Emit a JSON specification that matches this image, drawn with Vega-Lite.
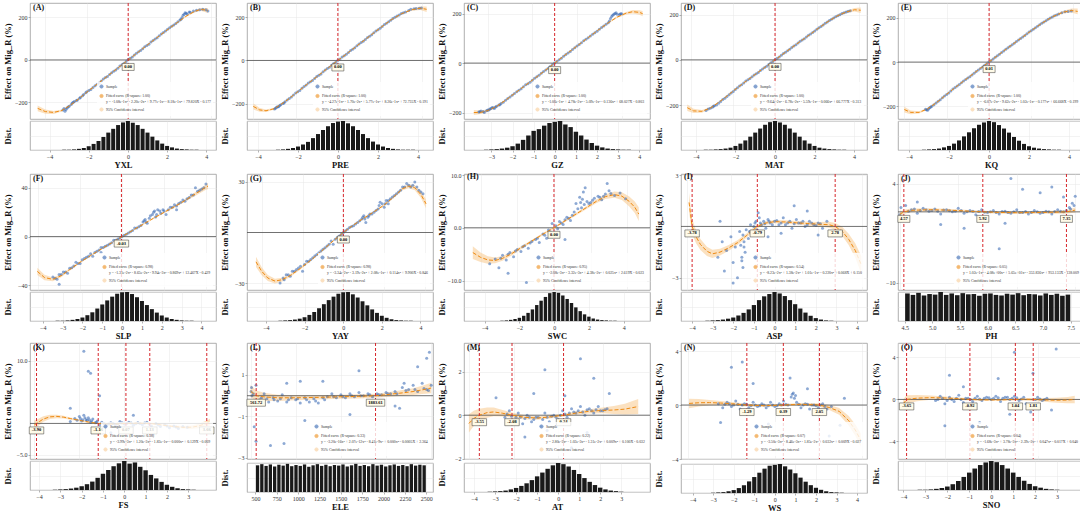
{
"$schema":"https://vega.github.io/schema/vega-lite/v6.json",
"padding":{"left":2,"top":2,"right":0,"bottom":0},
"background":"white",
"config":{
"font":"Liberation Serif",
"view":{"stroke":"#9a9a9a","strokeWidth":0.8},
"circle":{"size":9,"opacity":0.55},
"axis":{"labelFont":"Liberation Serif","titleFont":"Liberation Serif","labelFontSize":6,"titleFontSize":8.5,"titleFontWeight":"bold","labelColor":"#333333","titleColor":"#111111","gridColor":"#e6e6e6","gridWidth":0.5,"domain":false,"tickColor":"#666666","tickSize":2,"tickWidth":0.5,"labelPadding":1,"titlePadding":2,"labelFlush":false,"labelOverlap":false,"labelSeparation":-40,"labelBound":false},
"axisX":{"titlePadding":1},
"axisY":{"minExtent":16,"maxExtent":16,"labelOverlap":false,"labelSeparation":-40},
"legend":{"orient":"bottom-right","offset":3,"padding":2,"rowPadding":0.5,"labelFont":"Liberation Serif","labelFontSize":3.8,"labelColor":"#333333","symbolSize":10,"symbolStrokeWidth":1,"symbolType":"circle","fillColor":"rgba(255,255,255,0.8)","labelLimit":400,"labelOffset":2},
"title":{"anchor":"start","frame":"group","font":"Liberation Serif","fontSize":8,"fontWeight":"bold","color":"#111111","offset":0,"dx":3,"dy":13}
},
"datasets":{
"A_c":[{"x":-4.37,"y":-228,"l":-242,"h":-214},{"x":-4.0,"y":-243,"l":-253,"h":-233},{"x":-3.6,"y":-247,"l":-254,"h":-240},{"x":-3.2,"y":-238,"l":-243,"h":-233},{"x":-2.8,"y":-214,"l":-218,"h":-210},{"x":-2.4,"y":-184,"l":-187,"h":-181},{"x":-2.0,"y":-152,"l":-155,"h":-149},{"x":-1.5,"y":-114,"l":-116,"h":-112},{"x":-1.0,"y":-76,"l":-78,"h":-74},{"x":-0.5,"y":-38,"l":-40,"h":-36},{"x":0,"y":0,"l":-2,"h":2},{"x":0.5,"y":38,"l":36,"h":40},{"x":1.0,"y":76,"l":74,"h":78},{"x":1.5,"y":113,"l":111,"h":115},{"x":2.0,"y":150,"l":147,"h":153},{"x":2.4,"y":178,"l":175,"h":181},{"x":2.8,"y":206,"l":202,"h":210},{"x":3.2,"y":228,"l":223,"h":233},{"x":3.5,"y":238,"l":231,"h":245},{"x":3.85,"y":233,"l":221,"h":245}],
"A_s":[{"x":-3.15,"y":-236},{"x":-3.1,"y":-228},{"x":-3.05,"y":-242},{"x":-2.95,"y":-226},{"x":-2.85,"y":-218},{"x":-2.7,"y":-203},{"x":-2.6,"y":-196},{"x":-2.45,"y":-188},{"x":-2.3,"y":-176},{"x":-2.15,"y":-163},{"x":-2.0,"y":-150},{"x":-1.8,"y":-139},{"x":-1.6,"y":-121},{"x":-1.4,"y":-108},{"x":-1.2,"y":-90},{"x":-1.0,"y":-78},{"x":-0.8,"y":-60},{"x":-0.6,"y":-47},{"x":-0.4,"y":-29},{"x":-0.2,"y":-16},{"x":0.0,"y":2},{"x":0.2,"y":14},{"x":0.4,"y":31},{"x":0.6,"y":44},{"x":0.8,"y":62},{"x":1.0,"y":74},{"x":1.2,"y":92},{"x":1.4,"y":105},{"x":1.6,"y":122},{"x":1.8,"y":136},{"x":2.0,"y":152},{"x":2.2,"y":164},{"x":2.4,"y":180},{"x":2.55,"y":192},{"x":2.65,"y":210},{"x":2.75,"y":222},{"x":2.85,"y":216},{"x":3.0,"y":224},{"x":3.3,"y":234},{"x":3.6,"y":238},{"x":3.85,"y":230},{"x":-3.0,"y":-233},{"x":-2.9,"y":-222},{"x":-2.75,"y":-210},{"x":-2.65,"y":-199},{"x":-2.5,"y":-191},{"x":-2.35,"y":-180},{"x":-2.2,"y":-168},{"x":-2.05,"y":-154},{"x":-1.9,"y":-144},{"x":-1.7,"y":-130},{"x":-1.5,"y":-114},{"x":-1.3,"y":-99},{"x":-1.1,"y":-83},{"x":-0.9,"y":-69},{"x":-0.7,"y":-53},{"x":-0.5,"y":-39},{"x":-0.3,"y":-23},{"x":-0.1,"y":-7},{"x":0.1,"y":8},{"x":0.3,"y":23},{"x":0.5,"y":38},{"x":0.7,"y":53},{"x":0.9,"y":68},{"x":1.1,"y":84},{"x":1.3,"y":99},{"x":1.5,"y":114},{"x":1.7,"y":129},{"x":1.9,"y":144},{"x":2.1,"y":158},{"x":2.3,"y":172},{"x":2.5,"y":188},{"x":2.6,"y":200},{"x":2.7,"y":215},{"x":2.8,"y":220},{"x":2.95,"y":226},{"x":3.15,"y":230},{"x":3.45,"y":236},{"x":3.75,"y":236}],
"A_r":[{"x":0,"t":"0.00"}],
"A_h":[{"x":-3.25,"n":1},{"x":-3.0,"n":1},{"x":-2.75,"n":2},{"x":-2.5,"n":4},{"x":-2.25,"n":7},{"x":-2.0,"n":13},{"x":-1.75,"n":21},{"x":-1.5,"n":31},{"x":-1.25,"n":45},{"x":-1.0,"n":60},{"x":-0.75,"n":73},{"x":-0.5,"n":86},{"x":-0.25,"n":95},{"x":0.0,"n":100},{"x":0.25,"n":94},{"x":0.5,"n":86},{"x":0.75,"n":73},{"x":1.0,"n":60},{"x":1.25,"n":46},{"x":1.5,"n":33},{"x":1.75,"n":22},{"x":2.0,"n":14},{"x":2.25,"n":9},{"x":2.5,"n":5},{"x":2.75,"n":3},{"x":3.0,"n":2},{"x":3.25,"n":1},{"x":3.5,"n":1}],
"B_c":[{"x":-4.0,"y":-212,"l":-226,"h":-198},{"x":-3.7,"y":-228,"l":-237,"h":-219},{"x":-3.4,"y":-232,"l":-238,"h":-226},{"x":-3.0,"y":-222,"l":-226,"h":-218},{"x":-2.5,"y":-190,"l":-193,"h":-187},{"x":-2.0,"y":-152,"l":-154,"h":-150},{"x":-1.5,"y":-113,"l":-115,"h":-111},{"x":-1.0,"y":-75,"l":-77,"h":-73},{"x":-0.5,"y":-37,"l":-39,"h":-35},{"x":0,"y":0,"l":-2,"h":2},{"x":0.5,"y":37,"l":35,"h":39},{"x":1.0,"y":75,"l":73,"h":77},{"x":1.5,"y":112,"l":110,"h":114},{"x":2.0,"y":150,"l":148,"h":152},{"x":2.5,"y":186,"l":183,"h":189},{"x":3.0,"y":215,"l":212,"h":218},{"x":3.5,"y":234,"l":229,"h":239},{"x":3.9,"y":241,"l":233,"h":249},{"x":4.2,"y":236,"l":223,"h":249}],
"B_s":[{"x":-3.0,"y":-224},{"x":-2.9,"y":-216},{"x":-2.8,"y":-213},{"x":-2.7,"y":-204},{"x":-2.55,"y":-196},{"x":-2.4,"y":-182},{"x":-2.2,"y":-168},{"x":-2.0,"y":-150},{"x":-1.8,"y":-138},{"x":-1.6,"y":-120},{"x":-1.4,"y":-104},{"x":-1.2,"y":-92},{"x":-1.0,"y":-74},{"x":-0.8,"y":-62},{"x":-0.6,"y":-44},{"x":-0.4,"y":-31},{"x":-0.2,"y":-14},{"x":0,"y":1},{"x":0.2,"y":16},{"x":0.4,"y":29},{"x":0.6,"y":46},{"x":0.8,"y":59},{"x":1.0,"y":76},{"x":1.2,"y":89},{"x":1.4,"y":106},{"x":1.6,"y":119},{"x":1.8,"y":136},{"x":2.0,"y":149},{"x":2.2,"y":166},{"x":2.4,"y":178},{"x":2.6,"y":194},{"x":2.8,"y":205},{"x":3.0,"y":216},{"x":3.2,"y":224},{"x":3.45,"y":236},{"x":3.7,"y":240},{"x":3.95,"y":242},{"x":-2.95,"y":-220},{"x":-2.85,"y":-214},{"x":-2.75,"y":-208},{"x":-2.6,"y":-199},{"x":-2.5,"y":-190},{"x":-2.3,"y":-175},{"x":-2.1,"y":-159},{"x":-1.9,"y":-144},{"x":-1.7,"y":-128},{"x":-1.5,"y":-113},{"x":-1.3,"y":-98},{"x":-1.1,"y":-83},{"x":-0.9,"y":-68},{"x":-0.7,"y":-52},{"x":-0.5,"y":-37},{"x":-0.3,"y":-22},{"x":-0.1,"y":-8},{"x":0.1,"y":7},{"x":0.3,"y":22},{"x":0.5,"y":37},{"x":0.7,"y":52},{"x":0.9,"y":68},{"x":1.1,"y":83},{"x":1.3,"y":97},{"x":1.5,"y":112},{"x":1.7,"y":128},{"x":1.9,"y":142},{"x":2.1,"y":157},{"x":2.3,"y":172},{"x":2.5,"y":186},{"x":2.7,"y":199},{"x":2.9,"y":210},{"x":3.1,"y":220},{"x":3.35,"y":230},{"x":3.6,"y":238},{"x":3.85,"y":241}],
"B_r":[{"x":0,"t":"0.00"}],
"B_h":[{"x":-3.0,"n":1},{"x":-2.75,"n":2},{"x":-2.5,"n":4},{"x":-2.25,"n":7},{"x":-2.0,"n":12},{"x":-1.75,"n":19},{"x":-1.5,"n":28},{"x":-1.25,"n":41},{"x":-1.0,"n":55},{"x":-0.75,"n":69},{"x":-0.5,"n":82},{"x":-0.25,"n":93},{"x":0.0,"n":98},{"x":0.25,"n":100},{"x":0.5,"n":92},{"x":0.75,"n":82},{"x":1.0,"n":69},{"x":1.25,"n":55},{"x":1.5,"n":41},{"x":1.75,"n":29},{"x":2.0,"n":19},{"x":2.25,"n":12},{"x":2.5,"n":7},{"x":2.75,"n":4},{"x":3.0,"n":2},{"x":3.25,"n":1},{"x":3.5,"n":1},{"x":3.75,"n":1}],
"C_c":[{"x":-3.62,"y":-200,"l":-210,"h":-190},{"x":-3.3,"y":-199,"l":-206,"h":-192},{"x":-3.0,"y":-192,"l":-197,"h":-187},{"x":-2.6,"y":-175,"l":-179,"h":-171},{"x":-2.2,"y":-150,"l":-153,"h":-147},{"x":-1.8,"y":-123,"l":-125,"h":-121},{"x":-1.4,"y":-96,"l":-98,"h":-94},{"x":-1.0,"y":-69,"l":-71,"h":-67},{"x":-0.5,"y":-35,"l":-37,"h":-33},{"x":0,"y":0,"l":-2,"h":2},{"x":0.5,"y":35,"l":33,"h":37},{"x":1.0,"y":69,"l":67,"h":71},{"x":1.5,"y":103,"l":101,"h":105},{"x":2.0,"y":137,"l":135,"h":139},{"x":2.4,"y":163,"l":160,"h":166},{"x":2.8,"y":186,"l":182,"h":190},{"x":3.2,"y":202,"l":197,"h":207},{"x":3.5,"y":208,"l":201,"h":215},{"x":3.8,"y":205,"l":196,"h":214},{"x":3.94,"y":200,"l":189,"h":211}],
"C_s":[{"x":-3.4,"y":-198},{"x":-3.3,"y":-194},{"x":-3.15,"y":-200},{"x":-3.0,"y":-190},{"x":-2.9,"y":-186},{"x":-2.8,"y":-180},{"x":-2.7,"y":-184},{"x":-2.6,"y":-174},{"x":-2.45,"y":-168},{"x":-2.3,"y":-158},{"x":-2.1,"y":-143},{"x":-1.9,"y":-130},{"x":-1.7,"y":-116},{"x":-1.5,"y":-104},{"x":-1.3,"y":-88},{"x":-1.1,"y":-77},{"x":-0.9,"y":-61},{"x":-0.7,"y":-49},{"x":-0.5,"y":-34},{"x":-0.3,"y":-22},{"x":-0.1,"y":-6},{"x":0.1,"y":7},{"x":0.3,"y":20},{"x":0.5,"y":35},{"x":0.7,"y":47},{"x":0.9,"y":62},{"x":1.1,"y":75},{"x":1.3,"y":90},{"x":1.5,"y":102},{"x":1.7,"y":117},{"x":1.9,"y":129},{"x":2.1,"y":144},{"x":2.3,"y":157},{"x":2.45,"y":170},{"x":2.55,"y":188},{"x":2.65,"y":198},{"x":2.75,"y":204},{"x":2.9,"y":196},{"x":3.0,"y":200},{"x":-3.35,"y":-197},{"x":-3.2,"y":-196},{"x":-3.05,"y":-193},{"x":-2.95,"y":-190},{"x":-2.85,"y":-184},{"x":-2.75,"y":-181},{"x":-2.65,"y":-177},{"x":-2.5,"y":-169},{"x":-2.4,"y":-163},{"x":-2.2,"y":-150},{"x":-2.0,"y":-137},{"x":-1.8,"y":-123},{"x":-1.6,"y":-110},{"x":-1.4,"y":-96},{"x":-1.2,"y":-83},{"x":-1.0,"y":-69},{"x":-0.8,"y":-55},{"x":-0.6,"y":-41},{"x":-0.4,"y":-28},{"x":-0.2,"y":-14},{"x":0.0,"y":0},{"x":0.2,"y":14},{"x":0.4,"y":28},{"x":0.6,"y":41},{"x":0.8,"y":55},{"x":1.0,"y":69},{"x":1.2,"y":82},{"x":1.4,"y":96},{"x":1.6,"y":110},{"x":1.8,"y":123},{"x":2.0,"y":137},{"x":2.2,"y":150},{"x":2.4,"y":163},{"x":2.5,"y":180},{"x":2.6,"y":193},{"x":2.7,"y":201},{"x":2.8,"y":198},{"x":2.95,"y":200}],
"C_r":[{"x":0,"t":"0.00"}],
"C_h":[{"x":-3.25,"n":1},{"x":-3.0,"n":2},{"x":-2.75,"n":3},{"x":-2.5,"n":5},{"x":-2.25,"n":8},{"x":-2.0,"n":13},{"x":-1.75,"n":22},{"x":-1.5,"n":35},{"x":-1.25,"n":50},{"x":-1.0,"n":66},{"x":-0.75,"n":72},{"x":-0.5,"n":84},{"x":-0.25,"n":93},{"x":0.0,"n":97},{"x":0.25,"n":100},{"x":0.5,"n":88},{"x":0.75,"n":79},{"x":1.0,"n":63},{"x":1.25,"n":50},{"x":1.5,"n":36},{"x":1.75,"n":24},{"x":2.0,"n":15},{"x":2.25,"n":9},{"x":2.5,"n":5},{"x":2.75,"n":3},{"x":3.0,"n":2},{"x":3.25,"n":1},{"x":3.5,"n":1}],
"D_c":[{"x":-4.2,"y":-212,"l":-226,"h":-198},{"x":-3.9,"y":-226,"l":-235,"h":-217},{"x":-3.5,"y":-228,"l":-234,"h":-222},{"x":-3.1,"y":-214,"l":-218,"h":-210},{"x":-2.6,"y":-182,"l":-185,"h":-179},{"x":-2.0,"y":-138,"l":-140,"h":-136},{"x":-1.5,"y":-102,"l":-104,"h":-100},{"x":-1.0,"y":-68,"l":-70,"h":-66},{"x":-0.5,"y":-34,"l":-36,"h":-32},{"x":0,"y":0,"l":-2,"h":2},{"x":0.5,"y":34,"l":32,"h":36},{"x":1.0,"y":68,"l":66,"h":70},{"x":1.5,"y":101,"l":99,"h":103},{"x":2.0,"y":135,"l":133,"h":137},{"x":2.5,"y":168,"l":165,"h":171},{"x":3.0,"y":196,"l":192,"h":200},{"x":3.4,"y":212,"l":207,"h":217},{"x":3.8,"y":222,"l":214,"h":230},{"x":4.1,"y":220,"l":208,"h":232}],
"D_s":[{"x":-3.3,"y":-224},{"x":-3.1,"y":-214},{"x":-2.95,"y":-206},{"x":-2.8,"y":-200},{"x":-2.6,"y":-184},{"x":-2.4,"y":-170},{"x":-2.2,"y":-154},{"x":-2.0,"y":-140},{"x":-1.8,"y":-123},{"x":-1.6,"y":-110},{"x":-1.4,"y":-94},{"x":-1.2,"y":-83},{"x":-1.0,"y":-67},{"x":-0.8,"y":-56},{"x":-0.6,"y":-40},{"x":-0.4,"y":-28},{"x":-0.2,"y":-13},{"x":0,"y":1},{"x":0.2,"y":13},{"x":0.4,"y":28},{"x":0.6,"y":40},{"x":0.8,"y":55},{"x":1.0,"y":67},{"x":1.2,"y":82},{"x":1.4,"y":94},{"x":1.6,"y":109},{"x":1.8,"y":121},{"x":2.0,"y":136},{"x":2.2,"y":148},{"x":2.4,"y":162},{"x":2.6,"y":174},{"x":2.8,"y":186},{"x":3.0,"y":196},{"x":3.2,"y":206},{"x":3.4,"y":212},{"x":3.6,"y":218},{"x":-3.2,"y":-218},{"x":-3.0,"y":-210},{"x":-2.9,"y":-203},{"x":-2.7,"y":-192},{"x":-2.5,"y":-176},{"x":-2.3,"y":-162},{"x":-2.1,"y":-147},{"x":-1.9,"y":-131},{"x":-1.7,"y":-116},{"x":-1.5,"y":-102},{"x":-1.3,"y":-88},{"x":-1.1,"y":-75},{"x":-0.9,"y":-61},{"x":-0.7,"y":-47},{"x":-0.5,"y":-34},{"x":-0.3,"y":-20},{"x":-0.1,"y":-7},{"x":0.1,"y":7},{"x":0.3,"y":20},{"x":0.5,"y":34},{"x":0.7,"y":47},{"x":0.9,"y":61},{"x":1.1,"y":75},{"x":1.3,"y":88},{"x":1.5,"y":101},{"x":1.7,"y":115},{"x":1.9,"y":128},{"x":2.1,"y":142},{"x":2.3,"y":155},{"x":2.5,"y":168},{"x":2.7,"y":180},{"x":2.9,"y":191},{"x":3.1,"y":200},{"x":3.3,"y":209},{"x":3.5,"y":215}],
"D_r":[{"x":0,"t":"0.00"}],
"D_h":[{"x":-3.5,"n":1},{"x":-3.25,"n":1},{"x":-3.0,"n":2},{"x":-2.75,"n":3},{"x":-2.5,"n":5},{"x":-2.25,"n":8},{"x":-2.0,"n":14},{"x":-1.75,"n":22},{"x":-1.5,"n":33},{"x":-1.25,"n":46},{"x":-1.0,"n":60},{"x":-0.75,"n":74},{"x":-0.5,"n":87},{"x":-0.25,"n":96},{"x":0.0,"n":100},{"x":0.25,"n":95},{"x":0.5,"n":87},{"x":0.75,"n":74},{"x":1.0,"n":60},{"x":1.25,"n":46},{"x":1.5,"n":33},{"x":1.75,"n":22},{"x":2.0,"n":14},{"x":2.25,"n":8},{"x":2.5,"n":5},{"x":2.75,"n":3},{"x":3.0,"n":2},{"x":3.25,"n":1},{"x":3.5,"n":1}],
"E_c":[{"x":-4.0,"y":-215,"l":-228,"h":-202},{"x":-3.7,"y":-228,"l":-236,"h":-220},{"x":-3.3,"y":-228,"l":-233,"h":-223},{"x":-2.9,"y":-212,"l":-216,"h":-208},{"x":-2.4,"y":-178,"l":-181,"h":-175},{"x":-2.0,"y":-146,"l":-148,"h":-144},{"x":-1.5,"y":-108,"l":-110,"h":-106},{"x":-1.0,"y":-72,"l":-74,"h":-70},{"x":-0.5,"y":-35,"l":-37,"h":-33},{"x":0,"y":0,"l":-2,"h":2},{"x":0.5,"y":36,"l":34,"h":38},{"x":1.0,"y":72,"l":70,"h":74},{"x":1.5,"y":107,"l":105,"h":109},{"x":2.0,"y":142,"l":140,"h":144},{"x":2.5,"y":176,"l":173,"h":179},{"x":3.0,"y":205,"l":201,"h":209},{"x":3.5,"y":226,"l":220,"h":232},{"x":3.9,"y":234,"l":225,"h":243},{"x":4.2,"y":230,"l":217,"h":243}],
"E_s":[{"x":-3.0,"y":-214},{"x":-2.9,"y":-218},{"x":-2.8,"y":-207},{"x":-2.7,"y":-200},{"x":-2.5,"y":-186},{"x":-2.3,"y":-171},{"x":-2.1,"y":-154},{"x":-1.9,"y":-140},{"x":-1.7,"y":-122},{"x":-1.5,"y":-108},{"x":-1.3,"y":-94},{"x":-1.1,"y":-79},{"x":-0.9,"y":-66},{"x":-0.7,"y":-50},{"x":-0.5,"y":-36},{"x":-0.3,"y":-22},{"x":-0.1,"y":-7},{"x":0.1,"y":7},{"x":0.3,"y":22},{"x":0.5,"y":36},{"x":0.7,"y":50},{"x":0.9,"y":65},{"x":1.1,"y":79},{"x":1.3,"y":93},{"x":1.5,"y":107},{"x":1.7,"y":121},{"x":1.9,"y":136},{"x":2.1,"y":149},{"x":2.3,"y":163},{"x":2.5,"y":176},{"x":2.7,"y":188},{"x":2.9,"y":200},{"x":3.1,"y":210},{"x":3.3,"y":218},{"x":3.6,"y":228},{"x":3.9,"y":232},{"x":-2.95,"y":-216},{"x":-2.85,"y":-211},{"x":-2.75,"y":-204},{"x":-2.6,"y":-193},{"x":-2.4,"y":-178},{"x":-2.2,"y":-162},{"x":-2.0,"y":-147},{"x":-1.8,"y":-131},{"x":-1.6,"y":-115},{"x":-1.4,"y":-101},{"x":-1.2,"y":-86},{"x":-1.0,"y":-72},{"x":-0.8,"y":-58},{"x":-0.6,"y":-43},{"x":-0.4,"y":-29},{"x":-0.2,"y":-14},{"x":0.0,"y":0},{"x":0.2,"y":14},{"x":0.4,"y":29},{"x":0.6,"y":43},{"x":0.8,"y":58},{"x":1.0,"y":72},{"x":1.2,"y":86},{"x":1.4,"y":100},{"x":1.6,"y":114},{"x":1.8,"y":128},{"x":2.0,"y":142},{"x":2.2,"y":156},{"x":2.4,"y":169},{"x":2.6,"y":182},{"x":2.8,"y":194},{"x":3.0,"y":205},{"x":3.2,"y":214},{"x":3.45,"y":224},{"x":3.75,"y":230}],
"E_r":[{"x":0.01,"t":"0.01"}],
"E_h":[{"x":-3.25,"n":1},{"x":-3.0,"n":2},{"x":-2.75,"n":3},{"x":-2.5,"n":5},{"x":-2.25,"n":9},{"x":-2.0,"n":14},{"x":-1.75,"n":22},{"x":-1.5,"n":33},{"x":-1.25,"n":47},{"x":-1.0,"n":61},{"x":-0.75,"n":75},{"x":-0.5,"n":87},{"x":-0.25,"n":95},{"x":0.0,"n":100},{"x":0.25,"n":96},{"x":0.5,"n":86},{"x":0.75,"n":74},{"x":1.0,"n":60},{"x":1.25,"n":45},{"x":1.5,"n":32},{"x":1.75,"n":21},{"x":2.0,"n":13},{"x":2.25,"n":8},{"x":2.5,"n":5},{"x":2.75,"n":3},{"x":3.0,"n":2},{"x":3.25,"n":1},{"x":3.5,"n":1}],
"F_c":[{"x":-4.04,"y":-28.5,"l":-31.5,"h":-25.5},{"x":-3.7,"y":-33.5,"l":-35.7,"h":-31.3},{"x":-3.3,"y":-35,"l":-36.6,"h":-33.4},{"x":-2.9,"y":-32,"l":-33.2,"h":-30.8},{"x":-2.5,"y":-27,"l":-28,"h":-26},{"x":-2.0,"y":-21,"l":-21.8,"h":-20.2},{"x":-1.5,"y":-15.5,"l":-16.1,"h":-14.9},{"x":-1.0,"y":-10.3,"l":-10.8,"h":-9.8},{"x":-0.5,"y":-5.2,"l":-5.7,"h":-4.7},{"x":0,"y":0,"l":-0.5,"h":0.5},{"x":0.5,"y":5,"l":4.5,"h":5.5},{"x":1.0,"y":10,"l":9.5,"h":10.5},{"x":1.5,"y":15,"l":14.4,"h":15.6},{"x":2.0,"y":19.8,"l":19.1,"h":20.5},{"x":2.5,"y":24.5,"l":23.6,"h":25.4},{"x":3.0,"y":29.5,"l":28.4,"h":30.6},{"x":3.5,"y":35,"l":33.5,"h":36.5},{"x":4.0,"y":40.5,"l":38.3,"h":42.7},{"x":4.1,"y":41.3,"l":38.7,"h":43.9}],
"F_s":[{"x":-3.3,"y":-33},{"x":-3.1,"y":-35},{"x":-3.0,"y":-31},{"x":-2.8,"y":-29},{"x":-2.6,"y":-30},{"x":-2.5,"y":-26},{"x":-2.3,"y":-24},{"x":-2.2,"y":-21},{"x":-2.0,"y":-22},{"x":-1.9,"y":-19},{"x":-1.7,"y":-17},{"x":-1.5,"y":-14},{"x":-1.4,"y":-16},{"x":-1.2,"y":-12},{"x":-1.0,"y":-9},{"x":-0.8,"y":-8},{"x":-0.6,"y":-6},{"x":-0.4,"y":-3},{"x":-0.2,"y":-2},{"x":0.0,"y":0},{"x":0.2,"y":2},{"x":0.4,"y":4},{"x":0.6,"y":7},{"x":0.8,"y":8},{"x":1.0,"y":12},{"x":1.1,"y":14},{"x":1.2,"y":11},{"x":1.35,"y":17},{"x":1.5,"y":20},{"x":1.6,"y":16},{"x":1.7,"y":22},{"x":1.85,"y":19},{"x":2.0,"y":21},{"x":2.1,"y":18},{"x":2.3,"y":24},{"x":2.5,"y":26},{"x":2.7,"y":27},{"x":2.9,"y":30},{"x":3.1,"y":31},{"x":3.3,"y":34},{"x":3.6,"y":37},{"x":3.9,"y":40},{"x":4.0,"y":43},{"x":-3.0,"y":-39},{"x":2.6,"y":22},{"x":3.5,"y":40},{"x":-1.0,"y":-13},{"x":-3.2,"y":-34},{"x":-2.9,"y":-31},{"x":-2.7,"y":-29},{"x":-2.4,"y":-25.5},{"x":-2.1,"y":-22},{"x":-1.8,"y":-18},{"x":-1.6,"y":-16},{"x":-1.3,"y":-13},{"x":-1.1,"y":-11},{"x":-0.9,"y":-9},{"x":-0.7,"y":-7},{"x":-0.5,"y":-5},{"x":-0.3,"y":-3},{"x":-0.1,"y":-1},{"x":0.1,"y":1},{"x":0.3,"y":3},{"x":0.5,"y":5},{"x":0.7,"y":7},{"x":0.9,"y":9},{"x":1.05,"y":13},{"x":1.15,"y":12},{"x":1.3,"y":15},{"x":1.45,"y":18},{"x":1.55,"y":21},{"x":1.65,"y":18},{"x":1.8,"y":21},{"x":1.95,"y":22},{"x":2.2,"y":22},{"x":2.4,"y":24},{"x":2.6,"y":25},{"x":2.8,"y":28},{"x":3.0,"y":29},{"x":3.2,"y":32},{"x":3.4,"y":34},{"x":3.7,"y":38},{"x":3.8,"y":39}],
"F_r":[{"x":-0.03,"t":"-0.03"}],
"F_h":[{"x":-3.25,"n":1},{"x":-3.0,"n":1},{"x":-2.75,"n":2},{"x":-2.5,"n":4},{"x":-2.25,"n":7},{"x":-2.0,"n":12},{"x":-1.75,"n":20},{"x":-1.5,"n":30},{"x":-1.25,"n":43},{"x":-1.0,"n":57},{"x":-0.75,"n":71},{"x":-0.5,"n":84},{"x":-0.25,"n":94},{"x":0.0,"n":99},{"x":0.25,"n":100},{"x":0.5,"n":93},{"x":0.75,"n":82},{"x":1.0,"n":69},{"x":1.25,"n":55},{"x":1.5,"n":41},{"x":1.75,"n":29},{"x":2.0,"n":19},{"x":2.25,"n":12},{"x":2.5,"n":7},{"x":2.75,"n":4},{"x":3.0,"n":2},{"x":3.25,"n":1},{"x":3.5,"n":1}],
"G_c":[{"x":-4.28,"y":-17.4,"l":-20.4,"h":-14.4},{"x":-4.0,"y":-23,"l":-25.4,"h":-20.6},{"x":-3.7,"y":-27,"l":-28.8,"h":-25.2},{"x":-3.35,"y":-28.8,"l":-30.2,"h":-27.4},{"x":-3.0,"y":-28,"l":-29.1,"h":-26.9},{"x":-2.6,"y":-25.5,"l":-26.4,"h":-24.6},{"x":-2.1,"y":-21.2,"l":-21.9,"h":-20.5},{"x":-1.5,"y":-15.5,"l":-16,"h":-15},{"x":-1.0,"y":-10.3,"l":-10.8,"h":-9.8},{"x":-0.5,"y":-5,"l":-5.4,"h":-4.6},{"x":0,"y":0,"l":-0.4,"h":0.4},{"x":0.5,"y":4.5,"l":4.1,"h":4.9},{"x":1.0,"y":8.5,"l":8,"h":9},{"x":1.5,"y":12.3,"l":11.8,"h":12.8},{"x":2.0,"y":16.3,"l":15.7,"h":16.9},{"x":2.5,"y":21.5,"l":20.7,"h":22.3},{"x":2.9,"y":26,"l":25,"h":27},{"x":3.2,"y":27.5,"l":26.3,"h":28.7},{"x":3.5,"y":26.5,"l":25,"h":28},{"x":3.8,"y":22.5,"l":20.5,"h":24.5},{"x":4.05,"y":17,"l":14.4,"h":19.6}],
"G_s":[{"x":-2.9,"y":-28},{"x":-2.8,"y":-25},{"x":-2.6,"y":-26},{"x":-2.5,"y":-23},{"x":-2.3,"y":-22},{"x":-2.1,"y":-20},{"x":-2.0,"y":-23},{"x":-1.8,"y":-17},{"x":-1.6,"y":-16},{"x":-1.4,"y":-14},{"x":-1.2,"y":-12},{"x":-1.0,"y":-10},{"x":-0.8,"y":-8},{"x":-0.6,"y":-5},{"x":-0.5,"y":-7},{"x":-0.3,"y":-3},{"x":-0.1,"y":-1},{"x":0.1,"y":1},{"x":0.3,"y":3},{"x":0.5,"y":4},{"x":0.7,"y":6},{"x":0.9,"y":8},{"x":1.0,"y":10},{"x":1.1,"y":6},{"x":1.3,"y":11},{"x":1.5,"y":12},{"x":1.7,"y":14},{"x":1.8,"y":18},{"x":2.0,"y":15},{"x":2.1,"y":19},{"x":2.3,"y":20},{"x":2.5,"y":22},{"x":2.7,"y":24},{"x":2.9,"y":27},{"x":3.1,"y":29},{"x":3.3,"y":27},{"x":3.5,"y":30},{"x":3.7,"y":25},{"x":3.9,"y":23},{"x":-3.1,"y":-30},{"x":2.2,"y":17},{"x":1.2,"y":9},{"x":-2.95,"y":-27},{"x":-2.7,"y":-25},{"x":-2.4,"y":-23},{"x":-2.2,"y":-21},{"x":-1.9,"y":-19},{"x":-1.7,"y":-17},{"x":-1.5,"y":-15},{"x":-1.3,"y":-13},{"x":-1.1,"y":-11},{"x":-0.9,"y":-9},{"x":-0.7,"y":-7},{"x":-0.4,"y":-4},{"x":-0.2,"y":-2},{"x":0.0,"y":0},{"x":0.2,"y":2},{"x":0.4,"y":3.5},{"x":0.6,"y":5},{"x":0.8,"y":7},{"x":0.95,"y":9},{"x":1.05,"y":8},{"x":1.25,"y":10},{"x":1.4,"y":11},{"x":1.6,"y":13},{"x":1.75,"y":16},{"x":1.9,"y":17},{"x":2.05,"y":17},{"x":2.2,"y":19},{"x":2.4,"y":21},{"x":2.6,"y":23},{"x":2.8,"y":25},{"x":3.0,"y":27},{"x":3.2,"y":28},{"x":3.4,"y":28},{"x":3.6,"y":27},{"x":3.8,"y":24}],
"G_r":[{"x":0,"t":"0.00"}],
"G_h":[{"x":-3.25,"n":1},{"x":-3.0,"n":2},{"x":-2.75,"n":3},{"x":-2.5,"n":5},{"x":-2.25,"n":8},{"x":-2.0,"n":13},{"x":-1.75,"n":21},{"x":-1.5,"n":31},{"x":-1.25,"n":44},{"x":-1.0,"n":58},{"x":-0.75,"n":72},{"x":-0.5,"n":84},{"x":-0.25,"n":94},{"x":0.0,"n":99},{"x":0.25,"n":100},{"x":0.5,"n":92},{"x":0.75,"n":81},{"x":1.0,"n":68},{"x":1.25,"n":54},{"x":1.5,"n":40},{"x":1.75,"n":28},{"x":2.0,"n":18},{"x":2.25,"n":11},{"x":2.5,"n":6},{"x":2.75,"n":3},{"x":3.0,"n":2},{"x":3.25,"n":1},{"x":3.5,"n":1}],
"H_c":[{"x":-4.42,"y":-4.7,"l":-5.9,"h":-3.5},{"x":-4.0,"y":-5.6,"l":-6.5,"h":-4.7},{"x":-3.6,"y":-6.1,"l":-6.8,"h":-5.4},{"x":-3.2,"y":-6.2,"l":-6.75,"h":-5.65},{"x":-2.8,"y":-5.8,"l":-6.25,"h":-5.35},{"x":-2.3,"y":-4.9,"l":-5.25,"h":-4.55},{"x":-1.8,"y":-3.8,"l":-4.1,"h":-3.5},{"x":-1.2,"y":-2.5,"l":-2.75,"h":-2.25},{"x":-0.6,"y":-1.2,"l":-1.4,"h":-1.0},{"x":0,"y":0,"l":-0.2,"h":0.2},{"x":0.6,"y":1.3,"l":1.1,"h":1.5},{"x":1.2,"y":2.6,"l":2.35,"h":2.85},{"x":1.8,"y":3.9,"l":3.6,"h":4.2},{"x":2.3,"y":5.0,"l":4.65,"h":5.35},{"x":2.8,"y":5.9,"l":5.45,"h":6.35},{"x":3.3,"y":6.3,"l":5.7,"h":6.9},{"x":3.7,"y":6.0,"l":5.25,"h":6.75},{"x":4.1,"y":5.0,"l":4.05,"h":5.95},{"x":4.4,"y":3.9,"l":2.8,"h":5.0},{"x":4.62,"y":2.6,"l":1.3,"h":3.9}],
"H_s":[{"x":-3.5,"y":-6.8},{"x":-3.2,"y":-5.9},{"x":-3.0,"y":-7.6},{"x":-2.8,"y":-5.2},{"x":-2.6,"y":-6.1},{"x":-2.4,"y":-4.7},{"x":-2.2,"y":-5.5},{"x":-2.0,"y":-4.1},{"x":-1.8,"y":-4.5},{"x":-1.6,"y":-3.4},{"x":-1.4,"y":-3.9},{"x":-1.2,"y":-2.6},{"x":-1.0,"y":-2.2},{"x":-0.8,"y":-2.8},{"x":-0.6,"y":-1.2},{"x":-0.4,"y":-2.0},{"x":-0.3,"y":-0.4},{"x":-0.1,"y":0.8},{"x":0.0,"y":-1.0},{"x":0.1,"y":0.4},{"x":0.3,"y":1.2},{"x":0.5,"y":0.6},{"x":0.7,"y":2.0},{"x":0.9,"y":1.4},{"x":1.1,"y":3.0},{"x":1.2,"y":4.6},{"x":1.4,"y":5.8},{"x":1.5,"y":3.8},{"x":1.6,"y":6.8},{"x":1.8,"y":5.0},{"x":2.0,"y":4.8},{"x":2.2,"y":5.6},{"x":2.4,"y":6.0},{"x":2.6,"y":5.3},{"x":2.8,"y":6.4},{"x":3.0,"y":7.0},{"x":3.3,"y":6.1},{"x":3.6,"y":6.6},{"x":3.9,"y":5.5},{"x":-1.5,"y":-10.4},{"x":2.9,"y":8.4},{"x":-2.5,"y":-8.6},{"x":0.6,"y":-2.2},{"x":1.7,"y":7.6},{"x":-2.9,"y":-5.8},{"x":-2.5,"y":-5.0},{"x":-2.1,"y":-4.4},{"x":-1.7,"y":-3.6},{"x":-1.3,"y":-2.9},{"x":-0.9,"y":-2.0},{"x":-0.5,"y":-1.4},{"x":-0.2,"y":-0.8},{"x":0.2,"y":-0.2},{"x":0.4,"y":0.9},{"x":0.6,"y":1.5},{"x":0.8,"y":1.8},{"x":1.0,"y":2.4},{"x":1.3,"y":3.6},{"x":1.45,"y":4.8},{"x":1.55,"y":5.4},{"x":1.65,"y":4.4},{"x":1.9,"y":4.6},{"x":2.1,"y":5.2},{"x":2.5,"y":5.8},{"x":2.7,"y":6.0},{"x":3.1,"y":6.5}],
"H_r":[{"x":0,"t":"0.00"}],
"H_h":[{"x":-3.0,"n":1},{"x":-2.75,"n":2},{"x":-2.5,"n":4},{"x":-2.25,"n":7},{"x":-2.0,"n":11},{"x":-1.75,"n":18},{"x":-1.5,"n":28},{"x":-1.25,"n":40},{"x":-1.0,"n":55},{"x":-0.75,"n":70},{"x":-0.5,"n":83},{"x":-0.25,"n":96},{"x":0.0,"n":100},{"x":0.25,"n":97},{"x":0.5,"n":88},{"x":0.75,"n":76},{"x":1.0,"n":62},{"x":1.25,"n":47},{"x":1.5,"n":34},{"x":1.75,"n":23},{"x":2.0,"n":15},{"x":2.25,"n":9},{"x":2.5,"n":5},{"x":2.75,"n":3},{"x":3.0,"n":2},{"x":3.25,"n":1},{"x":3.5,"n":1}],
"I_c":[{"x":-3.92,"y":1.4,"l":0.85,"h":1.95},{"x":-3.78,"y":0,"l":-0.45,"h":0.45},{"x":-3.6,"y":-0.6,"l":-0.98,"h":-0.22},{"x":-3.4,"y":-1.05,"l":-1.37,"h":-0.73},{"x":-3.1,"y":-1.45,"l":-1.72,"h":-1.18},{"x":-2.85,"y":-1.6,"l":-1.84,"h":-1.36},{"x":-2.5,"y":-1.5,"l":-1.7,"h":-1.3},{"x":-2.1,"y":-1.25,"l":-1.42,"h":-1.08},{"x":-1.7,"y":-0.95,"l":-1.09,"h":-0.81},{"x":-1.3,"y":-0.55,"l":-0.67,"h":-0.43},{"x":-1.0,"y":-0.22,"l":-0.33,"h":-0.11},{"x":-0.79,"y":0,"l":-0.1,"h":0.1},{"x":-0.4,"y":0.2,"l":0.1,"h":0.3},{"x":0,"y":0.28,"l":0.18,"h":0.38},{"x":0.5,"y":0.26,"l":0.16,"h":0.36},{"x":1.0,"y":0.21,"l":0.11,"h":0.31},{"x":1.5,"y":0.17,"l":0.06,"h":0.28},{"x":2.0,"y":0.13,"l":0.0,"h":0.26},{"x":2.5,"y":0.1,"l":-0.07,"h":0.27},{"x":2.78,"y":0,"l":-0.2,"h":0.2},{"x":3.1,"y":-0.28,"l":-0.54,"h":-0.02},{"x":3.4,"y":-0.75,"l":-1.08,"h":-0.42},{"x":3.7,"y":-1.4,"l":-1.82,"h":-0.98},{"x":3.98,"y":-2.25,"l":-2.77,"h":-1.73}],
"I_s":[{"x":-2.6,"y":-1.8},{"x":-2.4,"y":-0.9},{"x":-2.3,"y":-2.6},{"x":-2.2,"y":-1.4},{"x":-2.0,"y":-0.6},{"x":-1.9,"y":-2.1},{"x":-1.8,"y":-1.2},{"x":-1.7,"y":-3.0},{"x":-1.6,"y":-0.3},{"x":-1.5,"y":-1.8},{"x":-1.45,"y":-2.4},{"x":-1.4,"y":-0.9},{"x":-1.35,"y":-1.5},{"x":-1.3,"y":-0.2},{"x":-1.2,"y":-0.7},{"x":-1.1,"y":0.1},{"x":-1.0,"y":-0.4},{"x":-0.9,"y":0.2},{"x":-0.8,"y":-0.2},{"x":-0.7,"y":0.5},{"x":-0.6,"y":0.1},{"x":-0.5,"y":0.3},{"x":-0.4,"y":-0.1},{"x":-0.3,"y":0.4},{"x":-0.2,"y":0.2},{"x":0.0,"y":0.3},{"x":0.2,"y":0.1},{"x":0.4,"y":0.5},{"x":0.6,"y":0.2},{"x":0.8,"y":-0.1},{"x":1.0,"y":0.4},{"x":1.2,"y":0.2},{"x":1.4,"y":0.0},{"x":1.6,"y":0.3},{"x":1.8,"y":0.1},{"x":2.0,"y":0.2},{"x":2.2,"y":-0.1},{"x":2.4,"y":0.3},{"x":-0.75,"y":0.8},{"x":0.9,"y":1.2},{"x":1.5,"y":0.9},{"x":-1.9,"y":-3.3},{"x":-0.3,"y":-0.6},{"x":2.0,"y":-0.5},{"x":-2.5,"y":0.3},{"x":0.3,"y":-0.4},{"x":-1.15,"y":-0.3},{"x":-0.95,"y":0.0},{"x":-0.85,"y":0.3},{"x":-0.65,"y":0.2},{"x":-0.45,"y":0.15},{"x":-0.25,"y":0.3},{"x":-0.1,"y":0.1},{"x":0.1,"y":0.35},{"x":0.3,"y":0.2},{"x":0.5,"y":0.1},{"x":0.7,"y":0.3},{"x":0.9,"y":0.15},{"x":1.1,"y":0.2},{"x":1.3,"y":0.3},{"x":1.5,"y":0.1},{"x":1.7,"y":0.2},{"x":1.9,"y":0.05},{"x":2.1,"y":0.15},{"x":-1.4,"y":-1.2},{"x":-1.45,"y":-0.5},{"x":-1.5,"y":-2.0},{"x":-1.55,"y":-1.1}],
"I_r":[{"x":-3.78,"t":"-3.78"},{"x":-0.79,"t":"-0.79"},{"x":2.78,"t":"2.78"}],
"I_h":[{"x":-3.25,"n":1},{"x":-3.0,"n":2},{"x":-2.75,"n":3},{"x":-2.5,"n":5},{"x":-2.25,"n":8},{"x":-2.0,"n":12},{"x":-1.75,"n":19},{"x":-1.5,"n":28},{"x":-1.25,"n":40},{"x":-1.0,"n":55},{"x":-0.75,"n":72},{"x":-0.5,"n":85},{"x":-0.25,"n":93},{"x":0.0,"n":100},{"x":0.25,"n":95},{"x":0.5,"n":86},{"x":0.75,"n":72},{"x":1.0,"n":58},{"x":1.25,"n":43},{"x":1.5,"n":29},{"x":1.75,"n":18},{"x":2.0,"n":10},{"x":2.25,"n":5},{"x":2.5,"n":2},{"x":2.75,"n":1}],
"J_c":[{"x":4.5,"y":-0.35,"l":-0.7,"h":0.0},{"x":4.57,"y":0,"l":-0.3,"h":0.3},{"x":4.7,"y":0.22,"l":-0.03,"h":0.47},{"x":5.0,"y":0.3,"l":0.1,"h":0.5},{"x":5.3,"y":0.25,"l":0.07,"h":0.43},{"x":5.6,"y":0.14,"l":-0.03,"h":0.31},{"x":5.92,"y":0,"l":-0.17,"h":0.17},{"x":6.2,"y":-0.08,"l":-0.25,"h":0.09},{"x":6.5,"y":-0.12,"l":-0.29,"h":0.05},{"x":6.8,"y":-0.1,"l":-0.28,"h":0.08},{"x":7.1,"y":-0.06,"l":-0.26,"h":0.14},{"x":7.35,"y":0,"l":-0.25,"h":0.25},{"x":7.5,"y":0.25,"l":-0.1,"h":0.6}],
"J_s":[{"x":4.5,"y":-0.4},{"x":4.52,"y":0.6},{"x":4.55,"y":-1.2},{"x":4.6,"y":0.9},{"x":4.7,"y":0.3},{"x":4.8,"y":-0.2},{"x":4.9,"y":0.5},{"x":5.0,"y":0.1},{"x":5.1,"y":0.4},{"x":5.2,"y":-0.3},{"x":5.3,"y":0.3},{"x":5.4,"y":0.0},{"x":5.5,"y":0.5},{"x":5.6,"y":-0.2},{"x":5.7,"y":0.2},{"x":5.8,"y":-0.4},{"x":5.9,"y":0.3},{"x":6.0,"y":-0.1},{"x":6.1,"y":0.2},{"x":6.2,"y":-0.3},{"x":6.3,"y":0.1},{"x":6.4,"y":-0.2},{"x":6.5,"y":0.3},{"x":6.6,"y":-0.1},{"x":6.7,"y":-0.3},{"x":6.8,"y":0.2},{"x":6.9,"y":-0.2},{"x":7.0,"y":0.1},{"x":7.1,"y":-0.3},{"x":7.2,"y":0.3},{"x":7.3,"y":0.0},{"x":7.4,"y":0.6},{"x":7.45,"y":1.2},{"x":7.5,"y":2.2},{"x":6.6,"y":3.2},{"x":6.9,"y":2.7},{"x":7.1,"y":3.5},{"x":6.4,"y":4.7},{"x":6.2,"y":-5.2},{"x":5.6,"y":-2.3},{"x":5.2,"y":-1.8},{"x":7.3,"y":2.1},{"x":4.8,"y":1.4},{"x":6.3,"y":-1.6},{"x":4.65,"y":0.1},{"x":4.75,"y":0.4},{"x":4.85,"y":0.2},{"x":4.95,"y":0.3},{"x":5.05,"y":0.2},{"x":5.15,"y":0.1},{"x":5.25,"y":0.25},{"x":5.35,"y":0.15},{"x":5.45,"y":0.1},{"x":5.55,"y":0.2},{"x":5.65,"y":0.0},{"x":5.75,"y":0.1},{"x":5.85,"y":0.05},{"x":5.95,"y":-0.05},{"x":6.05,"y":0.0},{"x":6.15,"y":-0.1},{"x":6.25,"y":0.05},{"x":6.35,"y":-0.1},{"x":6.45,"y":0.0},{"x":6.55,"y":-0.1},{"x":6.65,"y":0.05},{"x":6.75,"y":-0.1},{"x":6.85,"y":0.0},{"x":6.95,"y":-0.1},{"x":7.05,"y":0.0},{"x":7.15,"y":0.05},{"x":7.25,"y":0.1},{"x":7.35,"y":0.2},{"x":7.42,"y":0.4},{"x":7.48,"y":0.9}],
"J_r":[{"x":4.57,"t":"4.57"},{"x":5.92,"t":"5.92"},{"x":7.35,"t":"7.35"}],
"J_h":[{"x":4.55,"n":95},{"x":4.65,"n":90},{"x":4.75,"n":97},{"x":4.85,"n":88},{"x":4.95,"n":93},{"x":5.05,"n":91},{"x":5.15,"n":100},{"x":5.25,"n":90},{"x":5.35,"n":95},{"x":5.45,"n":89},{"x":5.55,"n":96},{"x":5.65,"n":92},{"x":5.75,"n":93},{"x":5.85,"n":87},{"x":5.95,"n":94},{"x":6.05,"n":95},{"x":6.15,"n":90},{"x":6.25,"n":88},{"x":6.35,"n":94},{"x":6.45,"n":91},{"x":6.55,"n":96},{"x":6.65,"n":89},{"x":6.75,"n":93},{"x":6.85,"n":92},{"x":6.95,"n":88},{"x":7.05,"n":95},{"x":7.15,"n":90},{"x":7.25,"n":94},{"x":7.35,"n":87},{"x":7.45,"n":91}],
"K_c":[{"x":-4.0,"y":-0.25,"l":-0.95,"h":0.45},{"x":-3.9,"y":0,"l":-0.6,"h":0.6},{"x":-3.6,"y":0.7,"l":0.25,"h":1.15},{"x":-3.3,"y":1.05,"l":0.7,"h":1.4},{"x":-3.0,"y":1.12,"l":0.84,"h":1.4},{"x":-2.7,"y":1.0,"l":0.78,"h":1.22},{"x":-2.4,"y":0.78,"l":0.6,"h":0.96},{"x":-2.0,"y":0.5,"l":0.35,"h":0.65},{"x":-1.6,"y":0.22,"l":0.1,"h":0.34},{"x":-1.16,"y":0,"l":-0.1,"h":0.1},{"x":-0.8,"y":-0.1,"l":-0.2,"h":0.0},{"x":-0.4,"y":-0.1,"l":-0.2,"h":0.0},{"x":0.07,"y":0,"l":-0.1,"h":0.1},{"x":0.6,"y":0.05,"l":-0.05,"h":0.15},{"x":1.13,"y":0,"l":-0.1,"h":0.1},{"x":1.6,"y":-0.2,"l":-0.32,"h":-0.08},{"x":2.1,"y":-0.45,"l":-0.6,"h":-0.3},{"x":2.6,"y":-0.62,"l":-0.82,"h":-0.42},{"x":3.0,"y":-0.6,"l":-0.87,"h":-0.33},{"x":3.3,"y":-0.4,"l":-0.75,"h":-0.05},{"x":3.66,"y":0,"l":-0.45,"h":0.45},{"x":3.8,"y":0.2,"l":-0.35,"h":0.75}],
"K_s":[{"x":-2.4,"y":0.3},{"x":-2.2,"y":0.8},{"x":-2.0,"y":1.1},{"x":-1.9,"y":0.4},{"x":-1.8,"y":1.3},{"x":-1.7,"y":0.6},{"x":-1.6,"y":0.9},{"x":-1.5,"y":0.2},{"x":-1.4,"y":0.7},{"x":-1.3,"y":0.1},{"x":-1.2,"y":0.4},{"x":-1.1,"y":-0.2},{"x":-1.0,"y":0.2},{"x":-0.8,"y":-0.3},{"x":-0.6,"y":0.1},{"x":-0.4,"y":-0.2},{"x":-0.2,"y":0.3},{"x":0.0,"y":-0.1},{"x":0.2,"y":0.2},{"x":0.4,"y":-0.3},{"x":0.6,"y":0.1},{"x":0.8,"y":-0.2},{"x":1.0,"y":0.2},{"x":1.2,"y":-0.4},{"x":1.4,"y":0.0},{"x":1.6,"y":-0.5},{"x":1.8,"y":-0.2},{"x":2.0,"y":-0.7},{"x":2.2,"y":-0.4},{"x":2.4,"y":-0.8},{"x":2.6,"y":-0.5},{"x":2.8,"y":-0.6},{"x":-1.8,"y":11.5},{"x":-1.5,"y":8.0},{"x":-1.6,"y":8.3},{"x":-1.1,"y":4.4},{"x":-2.4,"y":2.4},{"x":0.4,"y":1.3},{"x":1.3,"y":-1.6},{"x":-0.6,"y":-1.5},{"x":-2.1,"y":0.5},{"x":-1.95,"y":0.8},{"x":-1.85,"y":0.6},{"x":-1.75,"y":0.9},{"x":-1.65,"y":0.5},{"x":-1.55,"y":0.6},{"x":-1.45,"y":0.4},{"x":-1.25,"y":0.2},{"x":-0.9,"y":0.0},{"x":-0.7,"y":-0.1},{"x":-0.5,"y":0.0},{"x":-0.3,"y":-0.1},{"x":-0.1,"y":0.1},{"x":0.1,"y":0.0},{"x":0.3,"y":0.05},{"x":0.5,"y":-0.05},{"x":0.7,"y":0.0},{"x":0.9,"y":0.05},{"x":1.1,"y":-0.1},{"x":1.5,"y":-0.25},{"x":1.9,"y":-0.4},{"x":2.3,"y":-0.55}],
"K_r":[{"x":-3.9,"t":"-3.90"},{"x":-1.16,"t":"-1.16"},{"x":0.07,"t":"0.07"},{"x":1.13,"t":"1.13"},{"x":3.66,"t":"3.66"}],
"K_h":[{"x":-3.25,"n":1},{"x":-3.0,"n":2},{"x":-2.75,"n":3},{"x":-2.5,"n":5},{"x":-2.25,"n":8},{"x":-2.0,"n":13},{"x":-1.75,"n":20},{"x":-1.5,"n":29},{"x":-1.25,"n":42},{"x":-1.0,"n":56},{"x":-0.75,"n":69},{"x":-0.5,"n":82},{"x":-0.25,"n":92},{"x":0.0,"n":100},{"x":0.25,"n":91},{"x":0.5,"n":95},{"x":0.75,"n":80},{"x":1.0,"n":68},{"x":1.25,"n":52},{"x":1.5,"n":40},{"x":1.75,"n":28},{"x":2.0,"n":18},{"x":2.25,"n":11},{"x":2.5,"n":6},{"x":2.75,"n":3},{"x":3.0,"n":2},{"x":3.25,"n":1}],
"L_c":[{"x":500,"y":0.22,"l":-0.08,"h":0.52},{"x":561.72,"y":0,"l":-0.25,"h":0.25},{"x":650,"y":-0.06,"l":-0.26,"h":0.14},{"x":800,"y":-0.1,"l":-0.25,"h":0.05},{"x":1000,"y":-0.1,"l":-0.22,"h":0.02},{"x":1250,"y":-0.08,"l":-0.18,"h":0.02},{"x":1500,"y":-0.05,"l":-0.15,"h":0.05},{"x":1700,"y":-0.03,"l":-0.13,"h":0.07},{"x":1883.61,"y":0,"l":-0.1,"h":0.1},{"x":2000,"y":0.05,"l":-0.06,"h":0.16},{"x":2150,"y":0.12,"l":-0.01,"h":0.25},{"x":2300,"y":0.2,"l":0.04,"h":0.36},{"x":2400,"y":0.28,"l":0.08,"h":0.48},{"x":2500,"y":0.37,"l":0.12,"h":0.62}],
"L_s":[{"x":510,"y":0.4},{"x":520,"y":-0.4},{"x":530,"y":0.1},{"x":540,"y":-1.5},{"x":560,"y":0.5},{"x":600,"y":-0.2},{"x":650,"y":0.1},{"x":700,"y":-0.3},{"x":750,"y":-0.1},{"x":800,"y":-0.25},{"x":850,"y":0.05},{"x":900,"y":-0.3},{"x":950,"y":-0.1},{"x":1000,"y":-0.2},{"x":1050,"y":-0.35},{"x":1100,"y":-0.1},{"x":1150,"y":-0.3},{"x":1200,"y":-0.15},{"x":1250,"y":-0.35},{"x":1300,"y":-0.1},{"x":1350,"y":-0.05},{"x":1400,"y":0.1},{"x":1450,"y":-0.1},{"x":1500,"y":0.05},{"x":1550,"y":-0.1},{"x":1600,"y":0.1},{"x":1650,"y":-0.05},{"x":1700,"y":0.15},{"x":1750,"y":0.0},{"x":1800,"y":0.1},{"x":1850,"y":-0.05},{"x":1900,"y":0.1},{"x":1950,"y":0.05},{"x":2000,"y":0.15},{"x":2050,"y":0.1},{"x":2100,"y":0.2},{"x":2150,"y":-0.6},{"x":2180,"y":0.4},{"x":2200,"y":0.6},{"x":2250,"y":0.3},{"x":2300,"y":0.5},{"x":2350,"y":0.2},{"x":2400,"y":0.6},{"x":2450,"y":0.3},{"x":2500,"y":0.5},{"x":560,"y":-2.2},{"x":720,"y":-2.4},{"x":870,"y":-2.3},{"x":1050,"y":0.7},{"x":1700,"y":1.2},{"x":1300,"y":0.7},{"x":2450,"y":1.8},{"x":2480,"y":2.1},{"x":2350,"y":1.4},{"x":1100,"y":-1.2},{"x":1600,"y":-0.9},{"x":2100,"y":-0.5},{"x":900,"y":0.6},{"x":620,"y":-0.1},{"x":680,"y":-0.15},{"x":760,"y":-0.2},{"x":830,"y":-0.15},{"x":920,"y":-0.2},{"x":1020,"y":-0.15},{"x":1120,"y":-0.2},{"x":1220,"y":-0.25},{"x":1320,"y":-0.2},{"x":1420,"y":-0.05},{"x":1520,"y":-0.05},{"x":1620,"y":0.0},{"x":1720,"y":0.0},{"x":1820,"y":0.05},{"x":1920,"y":0.05},{"x":2020,"y":0.1},{"x":2120,"y":0.1},{"x":2220,"y":0.25},{"x":2320,"y":0.3},{"x":2420,"y":0.35},{"x":2470,"y":0.25},{"x":505,"y":0.2},{"x":515,"y":0.0}],
"L_r":[{"x":561.72,"t":"561.72"},{"x":1883.61,"t":"1883.61"}],
"L_h":[{"x":525,"n":92},{"x":575,"n":96},{"x":625,"n":90},{"x":675,"n":95},{"x":725,"n":88},{"x":775,"n":94},{"x":825,"n":91},{"x":875,"n":97},{"x":925,"n":89},{"x":975,"n":93},{"x":1025,"n":90},{"x":1075,"n":95},{"x":1125,"n":87},{"x":1175,"n":92},{"x":1225,"n":96},{"x":1275,"n":90},{"x":1325,"n":94},{"x":1375,"n":89},{"x":1425,"n":93},{"x":1475,"n":91},{"x":1525,"n":95},{"x":1575,"n":88},{"x":1625,"n":92},{"x":1675,"n":97},{"x":1725,"n":90},{"x":1775,"n":93},{"x":1825,"n":89},{"x":1875,"n":96},{"x":1925,"n":91},{"x":1975,"n":94},{"x":2025,"n":88},{"x":2075,"n":92},{"x":2125,"n":95},{"x":2175,"n":90},{"x":2225,"n":93},{"x":2275,"n":89},{"x":2325,"n":96},{"x":2375,"n":91},{"x":2425,"n":94},{"x":2475,"n":92}],
"M_c":[{"x":-4.02,"y":-0.38,"l":-0.8,"h":0.04},{"x":-3.8,"y":-0.15,"l":-0.5,"h":0.2},{"x":-3.55,"y":0,"l":-0.3,"h":0.3},{"x":-3.2,"y":0.12,"l":-0.12,"h":0.36},{"x":-2.9,"y":0.15,"l":-0.05,"h":0.35},{"x":-2.5,"y":0.09,"l":-0.06,"h":0.24},{"x":-2.08,"y":0,"l":-0.12,"h":0.12},{"x":-1.5,"y":-0.1,"l":-0.2,"h":0.0},{"x":-0.9,"y":-0.13,"l":-0.21,"h":-0.05},{"x":-0.3,"y":-0.07,"l":-0.14,"h":0.0},{"x":0.24,"y":0,"l":-0.07,"h":0.07},{"x":0.8,"y":0.1,"l":0.02,"h":0.18},{"x":1.4,"y":0.18,"l":0.08,"h":0.28},{"x":2.0,"y":0.22,"l":0.09,"h":0.35},{"x":2.5,"y":0.24,"l":0.06,"h":0.42},{"x":3.0,"y":0.28,"l":0.03,"h":0.53},{"x":3.6,"y":0.4,"l":0.05,"h":0.75}],
"M_s":[{"x":-2.4,"y":-0.1},{"x":-2.2,"y":0.2},{"x":-2.0,"y":-0.3},{"x":-1.8,"y":0.1},{"x":-1.6,"y":-0.4},{"x":-1.4,"y":0.0},{"x":-1.2,"y":-0.3},{"x":-1.0,"y":-0.1},{"x":-0.8,"y":-0.5},{"x":-0.6,"y":0.1},{"x":-0.4,"y":-0.3},{"x":-0.2,"y":0.0},{"x":0.0,"y":-0.2},{"x":0.2,"y":0.2},{"x":0.4,"y":-0.1},{"x":0.6,"y":0.3},{"x":0.8,"y":0.1},{"x":1.0,"y":0.4},{"x":1.2,"y":0.0},{"x":1.4,"y":0.3},{"x":1.6,"y":0.1},{"x":1.8,"y":0.4},{"x":2.0,"y":0.2},{"x":2.2,"y":0.3},{"x":-0.6,"y":2.1},{"x":1.6,"y":1.7},{"x":1.0,"y":2.6},{"x":-1.1,"y":1.0},{"x":0.6,"y":-1.5},{"x":-1.5,"y":-1.0},{"x":2.3,"y":1.0},{"x":-0.5,"y":-0.7},{"x":-2.8,"y":0.8},{"x":0.3,"y":0.9},{"x":1.3,"y":-0.8},{"x":-2.3,"y":0.05},{"x":-2.1,"y":-0.05},{"x":-1.9,"y":-0.1},{"x":-1.7,"y":-0.1},{"x":-1.5,"y":-0.15},{"x":-1.3,"y":-0.1},{"x":-1.1,"y":-0.2},{"x":-0.9,"y":-0.1},{"x":-0.7,"y":-0.2},{"x":-0.5,"y":-0.1},{"x":-0.3,"y":-0.05},{"x":-0.1,"y":-0.1},{"x":0.1,"y":0.0},{"x":0.3,"y":0.05},{"x":0.5,"y":0.1},{"x":0.7,"y":0.15},{"x":0.9,"y":0.2},{"x":1.1,"y":0.15},{"x":1.3,"y":0.25},{"x":1.5,"y":0.2},{"x":1.7,"y":0.25},{"x":1.9,"y":0.2},{"x":2.1,"y":0.25}],
"M_r":[{"x":-3.55,"t":"-3.55"},{"x":-2.08,"t":"-2.08"},{"x":0.24,"t":"0.24"}],
"M_h":[{"x":-3.25,"n":1},{"x":-3.0,"n":2},{"x":-2.75,"n":3},{"x":-2.5,"n":5},{"x":-2.25,"n":9},{"x":-2.0,"n":14},{"x":-1.75,"n":21},{"x":-1.5,"n":30},{"x":-1.25,"n":41},{"x":-1.0,"n":54},{"x":-0.75,"n":67},{"x":-0.5,"n":80},{"x":-0.25,"n":92},{"x":0.0,"n":100},{"x":0.25,"n":96},{"x":0.5,"n":88},{"x":0.75,"n":76},{"x":1.0,"n":62},{"x":1.25,"n":48},{"x":1.5,"n":35},{"x":1.75,"n":24},{"x":2.0,"n":15},{"x":2.25,"n":9},{"x":2.5,"n":5},{"x":2.75,"n":3},{"x":3.0,"n":1}],
"N_c":[{"x":-3.95,"y":0.12,"l":-0.23,"h":0.47},{"x":-3.5,"y":0.17,"l":-0.11,"h":0.45},{"x":-3.0,"y":0.18,"l":-0.02,"h":0.38},{"x":-2.5,"y":0.15,"l":0.0,"h":0.3},{"x":-2.0,"y":0.1,"l":-0.02,"h":0.22},{"x":-1.29,"y":0,"l":-0.1,"h":0.1},{"x":-0.5,"y":-0.05,"l":-0.13,"h":0.03},{"x":0.39,"y":0,"l":-0.08,"h":0.08},{"x":1.2,"y":0.06,"l":-0.04,"h":0.16},{"x":2.05,"y":0,"l":-0.13,"h":0.13},{"x":2.5,"y":-0.18,"l":-0.36,"h":0.0},{"x":2.96,"y":-0.47,"l":-0.72,"h":-0.22},{"x":3.4,"y":-1.16,"l":-1.51,"h":-0.81},{"x":3.7,"y":-1.85,"l":-2.27,"h":-1.43},{"x":3.95,"y":-2.6,"l":-3.1,"h":-2.1}],
"N_s":[{"x":-2.6,"y":0.1},{"x":-2.4,"y":-0.2},{"x":-2.2,"y":0.2},{"x":-2.0,"y":-0.1},{"x":-1.8,"y":0.3},{"x":-1.6,"y":-0.3},{"x":-1.4,"y":0.1},{"x":-1.2,"y":-0.2},{"x":-1.0,"y":0.2},{"x":-0.8,"y":-0.1},{"x":-0.6,"y":0.1},{"x":-0.4,"y":-0.2},{"x":-0.2,"y":0.2},{"x":0.0,"y":-0.1},{"x":0.2,"y":0.1},{"x":0.4,"y":-0.6},{"x":0.4,"y":0.3},{"x":0.6,"y":0.0},{"x":0.8,"y":0.8},{"x":0.9,"y":0.5},{"x":1.0,"y":0.2},{"x":1.2,"y":-0.2},{"x":1.4,"y":0.1},{"x":1.6,"y":-0.3},{"x":1.8,"y":0.0},{"x":2.0,"y":-0.2},{"x":2.2,"y":0.1},{"x":2.4,"y":-0.3},{"x":2.6,"y":-0.1},{"x":-2.0,"y":2.8},{"x":-1.5,"y":3.2},{"x":0.7,"y":2.0},{"x":-2.5,"y":-1.3},{"x":2.5,"y":-2.3},{"x":3.0,"y":-1.5},{"x":-1.0,"y":1.6},{"x":1.5,"y":1.2},{"x":-0.3,"y":-1.4},{"x":3.2,"y":0.5},{"x":-2.3,"y":0.05},{"x":-2.1,"y":0.1},{"x":-1.9,"y":0.0},{"x":-1.7,"y":0.05},{"x":-1.5,"y":0.0},{"x":-1.3,"y":0.05},{"x":-1.1,"y":-0.05},{"x":-0.9,"y":0.0},{"x":-0.7,"y":-0.05},{"x":-0.5,"y":0.0},{"x":-0.3,"y":-0.05},{"x":-0.1,"y":0.0},{"x":0.1,"y":-0.05},{"x":0.3,"y":0.0},{"x":0.5,"y":0.05},{"x":0.75,"y":0.6},{"x":0.85,"y":0.9},{"x":0.95,"y":0.7},{"x":1.1,"y":0.05},{"x":1.3,"y":0.0},{"x":1.5,"y":0.05},{"x":1.7,"y":0.0},{"x":1.9,"y":-0.05},{"x":2.1,"y":0.0},{"x":2.3,"y":-0.1},{"x":0.42,"y":-0.4}],
"N_r":[{"x":-1.29,"t":"-1.29"},{"x":0.39,"t":"0.39"},{"x":2.05,"t":"2.05"}],
"N_h":[{"x":-3.0,"n":1},{"x":-2.75,"n":2},{"x":-2.5,"n":3},{"x":-2.25,"n":6},{"x":-2.0,"n":10},{"x":-1.75,"n":17},{"x":-1.5,"n":27},{"x":-1.25,"n":40},{"x":-1.0,"n":55},{"x":-0.75,"n":70},{"x":-0.5,"n":84},{"x":-0.25,"n":94},{"x":0.0,"n":97},{"x":0.25,"n":100},{"x":0.5,"n":92},{"x":0.75,"n":81},{"x":1.0,"n":68},{"x":1.25,"n":53},{"x":1.5,"n":39},{"x":1.75,"n":27},{"x":2.0,"n":18},{"x":2.25,"n":11},{"x":2.5,"n":6},{"x":2.75,"n":3},{"x":3.0,"n":2},{"x":3.25,"n":1}],
"O_c":[{"x":-3.8,"y":-0.45,"l":-0.9,"h":0.0},{"x":-3.65,"y":0,"l":-0.4,"h":0.4},{"x":-3.2,"y":0.12,"l":-0.18,"h":0.42},{"x":-2.6,"y":0.17,"l":-0.03,"h":0.37},{"x":-2.0,"y":0.14,"l":-0.01,"h":0.29},{"x":-1.4,"y":0.07,"l":-0.05,"h":0.19},{"x":-0.92,"y":0,"l":-0.1,"h":0.1},{"x":-0.4,"y":-0.04,"l":-0.14,"h":0.06},{"x":0.3,"y":-0.05,"l":-0.15,"h":0.05},{"x":1.04,"y":0,"l":-0.1,"h":0.1},{"x":1.4,"y":0.02,"l":-0.1,"h":0.14},{"x":1.81,"y":0,"l":-0.14,"h":0.14},{"x":2.3,"y":-0.05,"l":-0.23,"h":0.13},{"x":2.8,"y":-0.08,"l":-0.32,"h":0.16},{"x":3.3,"y":-0.06,"l":-0.36,"h":0.24},{"x":3.6,"y":0.0,"l":-0.36,"h":0.36}],
"O_s":[{"x":-2.4,"y":-0.1},{"x":-2.2,"y":0.3},{"x":-2.0,"y":-0.4},{"x":-1.8,"y":0.2},{"x":-1.6,"y":-0.2},{"x":-1.4,"y":0.4},{"x":-1.2,"y":-0.3},{"x":-1.0,"y":0.1},{"x":-0.8,"y":-0.2},{"x":-0.6,"y":0.3},{"x":-0.4,"y":-0.1},{"x":-0.2,"y":0.2},{"x":0.0,"y":0.0},{"x":0.2,"y":0.3},{"x":0.4,"y":-0.2},{"x":0.6,"y":0.2},{"x":0.8,"y":0.0},{"x":1.0,"y":0.3},{"x":1.2,"y":-0.1},{"x":1.4,"y":0.2},{"x":1.6,"y":-0.8},{"x":1.7,"y":-1.2},{"x":1.8,"y":-0.5},{"x":2.0,"y":0.2},{"x":2.2,"y":-0.1},{"x":2.4,"y":0.1},{"x":1.0,"y":4.5},{"x":-1.8,"y":2.3},{"x":0.3,"y":2.0},{"x":1.8,"y":2.5},{"x":2.8,"y":4.8},{"x":-2.0,"y":-2.5},{"x":-0.5,"y":-2.2},{"x":-1.2,"y":1.2},{"x":0.8,"y":-1.4},{"x":2.6,"y":-1.0},{"x":-2.3,"y":0.0},{"x":-2.1,"y":0.1},{"x":-1.9,"y":-0.1},{"x":-1.7,"y":0.0},{"x":-1.5,"y":0.1},{"x":-1.3,"y":0.0},{"x":-1.1,"y":0.1},{"x":-0.9,"y":0.0},{"x":-0.7,"y":0.1},{"x":-0.5,"y":0.05},{"x":-0.3,"y":0.1},{"x":-0.1,"y":0.15},{"x":0.1,"y":0.1},{"x":0.3,"y":0.15},{"x":0.5,"y":0.1},{"x":0.7,"y":0.2},{"x":0.9,"y":0.1},{"x":1.1,"y":0.15},{"x":1.3,"y":0.05},{"x":1.5,"y":-0.4},{"x":1.65,"y":-0.6},{"x":1.9,"y":0.0},{"x":2.1,"y":0.05},{"x":2.3,"y":0.0}],
"O_r":[{"x":-3.65,"t":"-3.65"},{"x":-0.92,"t":"-0.92"},{"x":1.04,"t":"1.04"},{"x":1.81,"t":"1.81"}],
"O_h":[{"x":-3.25,"n":1},{"x":-3.0,"n":1},{"x":-2.75,"n":2},{"x":-2.5,"n":4},{"x":-2.25,"n":7},{"x":-2.0,"n":12},{"x":-1.75,"n":20},{"x":-1.5,"n":31},{"x":-1.25,"n":45},{"x":-1.0,"n":60},{"x":-0.75,"n":74},{"x":-0.5,"n":86},{"x":-0.25,"n":95},{"x":0.0,"n":100},{"x":0.25,"n":96},{"x":0.5,"n":86},{"x":0.75,"n":74},{"x":1.0,"n":60},{"x":1.25,"n":45},{"x":1.5,"n":32},{"x":1.75,"n":21},{"x":2.0,"n":13},{"x":2.25,"n":8},{"x":2.5,"n":4},{"x":2.75,"n":2},{"x":3.0,"n":1}]
},
"spacing":2,
"resolve":{"scale":{"color":"independent"},"legend":{"color":"independent"}},
"vconcat":[
{"hconcat":[
{"vconcat":[
{"width":186,"height":116,"title":"(A)","layer":[
{"data":{"name":"A_c"},"mark":{"type":"area","opacity":0.6},"encoding":{"x":{"field":"x","type":"quantitative","scale":{"domain":[-4.74,4.24],"nice":false,"zero":false},"axis":{"values":[-4,-2,0,2,4],"labels":false,"ticks":false,"title":null}},"y":{"field":"l","type":"quantitative","scale":{"domain":[-278,268],"nice":false,"zero":false},"axis":{"values":[-200,-100,0,100,200],"format":"d","labelOverlap":false,"title":"Effect on Mig_R (%)"}},"y2":{"field":"h"},"color":{"datum":"95% Confidence interval","scale":{"domain":["Sample","Fitted curve (R-square: 1.00)","95% Confidence interval"],"range":["#2f62b0","#ee8a12","#f9cd96"]},"legend":{"title":null,"labelExpr":"indexof(datum.label,'Fitted')==0 ? [datum.label,'y = -1.08e-1x⁵ - 2.20e-2x⁴ + 9.77e-1x³ - 8.18e-1x² + 79.820X - 0.177'] : datum.label"}}}},
{"data":{"name":"A_s"},"mark":{"type":"circle"},"encoding":{"x":{"field":"x","type":"quantitative"},"y":{"field":"y","type":"quantitative"},"color":{"datum":"Sample"}}},
{"data":{"values":[{}]},"mark":{"type":"rule","color":"#4d4d4d","strokeWidth":0.8},"encoding":{"y":{"datum":0}}},
{"data":{"name":"A_c"},"mark":{"type":"line","strokeDash":[4,2],"strokeWidth":1},"encoding":{"x":{"field":"x","type":"quantitative"},"y":{"field":"y","type":"quantitative"},"color":{"datum":"Fitted curve (R-square: 1.00)"}}},
{"data":{"name":"A_r"},"mark":{"type":"rule","color":"#d7262b","strokeDash":[3,2],"strokeWidth":1},"encoding":{"x":{"field":"x","type":"quantitative"}}},
{"data":{"name":"A_r"},"mark":{"type":"point","shape":"M-1.2,-0.7H1.2V0.7H-1.2Z","size":100,"filled":true,"fill":"#fffbe8","stroke":"#333333","strokeWidth":0.5,"opacity":1,"yOffset":7},"encoding":{"x":{"field":"x","type":"quantitative"},"y":{"datum":0}}},
{"data":{"name":"A_r"},"mark":{"type":"text","fontSize":4.5,"fontWeight":"bold","yOffset":7},"encoding":{"x":{"field":"x","type":"quantitative"},"y":{"datum":0},"text":{"field":"t"}}}
]},
{"width":186,"height":29,"data":{"name":"A_h"},"mark":{"type":"bar","size":4,"color":"#1a1a1a"},"encoding":{"x":{"field":"x","type":"quantitative","scale":{"domain":[-4.74,4.24],"nice":false,"zero":false},"axis":{"values":[-4,-2,0,2,4],"format":"d","title":"YXL"}},"y":{"field":"n","type":"quantitative","axis":{"labels":false,"ticks":false,"title":"Dist.","tickCount":3}}}}
],"spacing":0,"resolve":{"scale":{"color":"independent"},"legend":{"color":"independent"}}},
{"vconcat":[
{"width":186,"height":116,"title":"(B)","layer":[
{"data":{"name":"B_c"},"mark":{"type":"area","opacity":0.6},"encoding":{"x":{"field":"x","type":"quantitative","scale":{"domain":[-4.3,4.5],"nice":false,"zero":false},"axis":{"values":[-4,-2,0,2,4],"labels":false,"ticks":false,"title":null}},"y":{"field":"l","type":"quantitative","scale":{"domain":[-270,265],"nice":false,"zero":false},"axis":{"values":[-200,-100,0,100,200],"format":"d","labelOverlap":false,"title":"Effect on Mig_R (%)"}},"y2":{"field":"h"},"color":{"datum":"95% Confidence interval","scale":{"domain":["Sample","Fitted curve (R-square: 1.00)","95% Confidence interval"],"range":["#2f62b0","#ee8a12","#f9cd96"]},"legend":{"title":null,"labelExpr":"indexof(datum.label,'Fitted')==0 ? [datum.label,'y = -4.27e-1x⁵ - 1.70e-2x⁴ + 5.77e-1x³ + 8.26e-1x² + 72.735X - 0.191'] : datum.label"}}}},
{"data":{"name":"B_s"},"mark":{"type":"circle"},"encoding":{"x":{"field":"x","type":"quantitative"},"y":{"field":"y","type":"quantitative"},"color":{"datum":"Sample"}}},
{"data":{"values":[{}]},"mark":{"type":"rule","color":"#4d4d4d","strokeWidth":0.8},"encoding":{"y":{"datum":0}}},
{"data":{"name":"B_c"},"mark":{"type":"line","strokeDash":[4,2],"strokeWidth":1},"encoding":{"x":{"field":"x","type":"quantitative"},"y":{"field":"y","type":"quantitative"},"color":{"datum":"Fitted curve (R-square: 1.00)"}}},
{"data":{"name":"B_r"},"mark":{"type":"rule","color":"#d7262b","strokeDash":[3,2],"strokeWidth":1},"encoding":{"x":{"field":"x","type":"quantitative"}}},
{"data":{"name":"B_r"},"mark":{"type":"point","shape":"M-1.2,-0.7H1.2V0.7H-1.2Z","size":100,"filled":true,"fill":"#fffbe8","stroke":"#333333","strokeWidth":0.5,"opacity":1,"yOffset":7},"encoding":{"x":{"field":"x","type":"quantitative"},"y":{"datum":0}}},
{"data":{"name":"B_r"},"mark":{"type":"text","fontSize":4.5,"fontWeight":"bold","yOffset":7},"encoding":{"x":{"field":"x","type":"quantitative"},"y":{"datum":0},"text":{"field":"t"}}}
]},
{"width":186,"height":29,"data":{"name":"B_h"},"mark":{"type":"bar","size":4,"color":"#1a1a1a"},"encoding":{"x":{"field":"x","type":"quantitative","scale":{"domain":[-4.3,4.5],"nice":false,"zero":false},"axis":{"values":[-4,-2,0,2,4],"format":"d","title":"PRE"}},"y":{"field":"n","type":"quantitative","axis":{"labels":false,"ticks":false,"title":"Dist.","tickCount":3}}}}
],"spacing":0,"resolve":{"scale":{"color":"independent"},"legend":{"color":"independent"}}},
{"vconcat":[
{"width":186,"height":116,"title":"(C)","layer":[
{"data":{"name":"C_c"},"mark":{"type":"area","opacity":0.6},"encoding":{"x":{"field":"x","type":"quantitative","scale":{"domain":[-4.06,4.27],"nice":false,"zero":false},"axis":{"values":[-3,-2,-1,0,1,2,3,4],"labels":false,"ticks":false,"title":null}},"y":{"field":"l","type":"quantitative","scale":{"domain":[-226,243],"nice":false,"zero":false},"axis":{"values":[-200,-100,0,100,200],"format":"d","labelOverlap":false,"title":"Effect on Mig_R (%)"}},"y2":{"field":"h"},"color":{"datum":"95% Confidence interval","scale":{"domain":["Sample","Fitted curve (R-square: 1.00)","95% Confidence interval"],"range":["#2f62b0","#ee8a12","#f9cd96"]},"legend":{"title":null,"labelExpr":"indexof(datum.label,'Fitted')==0 ? [datum.label,'y = -1.06e-1x⁵ + 4.78e-2x⁴ - 5.09e-1x³ - 0.136x² + 68.027X - 0.803'] : datum.label"}}}},
{"data":{"name":"C_s"},"mark":{"type":"circle"},"encoding":{"x":{"field":"x","type":"quantitative"},"y":{"field":"y","type":"quantitative"},"color":{"datum":"Sample"}}},
{"data":{"values":[{}]},"mark":{"type":"rule","color":"#4d4d4d","strokeWidth":0.8},"encoding":{"y":{"datum":0}}},
{"data":{"name":"C_c"},"mark":{"type":"line","strokeDash":[4,2],"strokeWidth":1},"encoding":{"x":{"field":"x","type":"quantitative"},"y":{"field":"y","type":"quantitative"},"color":{"datum":"Fitted curve (R-square: 1.00)"}}},
{"data":{"name":"C_r"},"mark":{"type":"rule","color":"#d7262b","strokeDash":[3,2],"strokeWidth":1},"encoding":{"x":{"field":"x","type":"quantitative"}}},
{"data":{"name":"C_r"},"mark":{"type":"point","shape":"M-1.2,-0.7H1.2V0.7H-1.2Z","size":100,"filled":true,"fill":"#fffbe8","stroke":"#333333","strokeWidth":0.5,"opacity":1,"yOffset":7},"encoding":{"x":{"field":"x","type":"quantitative"},"y":{"datum":0}}},
{"data":{"name":"C_r"},"mark":{"type":"text","fontSize":4.5,"fontWeight":"bold","yOffset":7},"encoding":{"x":{"field":"x","type":"quantitative"},"y":{"datum":0},"text":{"field":"t"}}}
]},
{"width":186,"height":29,"data":{"name":"C_h"},"mark":{"type":"bar","size":4.4,"color":"#1a1a1a"},"encoding":{"x":{"field":"x","type":"quantitative","scale":{"domain":[-4.06,4.27],"nice":false,"zero":false},"axis":{"values":[-3,-2,-1,0,1,2,3,4],"format":"d","title":"GZ"}},"y":{"field":"n","type":"quantitative","axis":{"labels":false,"ticks":false,"title":"Dist.","tickCount":3}}}}
],"spacing":0,"resolve":{"scale":{"color":"independent"},"legend":{"color":"independent"}}},
{"vconcat":[
{"width":186,"height":116,"title":"(D)","layer":[
{"data":{"name":"D_c"},"mark":{"type":"area","opacity":0.6},"encoding":{"x":{"field":"x","type":"quantitative","scale":{"domain":[-4.5,4.4],"nice":false,"zero":false},"axis":{"values":[-4,-2,0,2,4],"labels":false,"ticks":false,"title":null}},"y":{"field":"l","type":"quantitative","scale":{"domain":[-262,252],"nice":false,"zero":false},"axis":{"values":[-200,-100,0,100,200],"format":"d","labelOverlap":false,"title":"Effect on Mig_R (%)"}},"y2":{"field":"h"},"color":{"datum":"95% Confidence interval","scale":{"domain":["Sample","Fitted curve (R-square: 1.00)","95% Confidence interval"],"range":["#2f62b0","#ee8a12","#f9cd96"]},"legend":{"title":null,"labelExpr":"indexof(datum.label,'Fitted')==0 ? [datum.label,'y = -9.64e-2x⁵ - 6.78e-2x⁴ - 5.59e-1x³ - 0.066x² + 66.777X - 0.313'] : datum.label"}}}},
{"data":{"name":"D_s"},"mark":{"type":"circle"},"encoding":{"x":{"field":"x","type":"quantitative"},"y":{"field":"y","type":"quantitative"},"color":{"datum":"Sample"}}},
{"data":{"values":[{}]},"mark":{"type":"rule","color":"#4d4d4d","strokeWidth":0.8},"encoding":{"y":{"datum":0}}},
{"data":{"name":"D_c"},"mark":{"type":"line","strokeDash":[4,2],"strokeWidth":1},"encoding":{"x":{"field":"x","type":"quantitative"},"y":{"field":"y","type":"quantitative"},"color":{"datum":"Fitted curve (R-square: 1.00)"}}},
{"data":{"name":"D_r"},"mark":{"type":"rule","color":"#d7262b","strokeDash":[3,2],"strokeWidth":1},"encoding":{"x":{"field":"x","type":"quantitative"}}},
{"data":{"name":"D_r"},"mark":{"type":"point","shape":"M-1.2,-0.7H1.2V0.7H-1.2Z","size":100,"filled":true,"fill":"#fffbe8","stroke":"#333333","strokeWidth":0.5,"opacity":1,"yOffset":7},"encoding":{"x":{"field":"x","type":"quantitative"},"y":{"datum":0}}},
{"data":{"name":"D_r"},"mark":{"type":"text","fontSize":4.5,"fontWeight":"bold","yOffset":7},"encoding":{"x":{"field":"x","type":"quantitative"},"y":{"datum":0},"text":{"field":"t"}}}
]},
{"width":186,"height":29,"data":{"name":"D_h"},"mark":{"type":"bar","size":4,"color":"#1a1a1a"},"encoding":{"x":{"field":"x","type":"quantitative","scale":{"domain":[-4.5,4.4],"nice":false,"zero":false},"axis":{"values":[-4,-2,0,2,4],"format":"d","title":"MAT"}},"y":{"field":"n","type":"quantitative","axis":{"labels":false,"ticks":false,"title":"Dist.","tickCount":3}}}}
],"spacing":0,"resolve":{"scale":{"color":"independent"},"legend":{"color":"independent"}}},
{"vconcat":[
{"width":186,"height":116,"title":"(E)","layer":[
{"data":{"name":"E_c"},"mark":{"type":"area","opacity":0.6},"encoding":{"x":{"field":"x","type":"quantitative","scale":{"domain":[-4.3,4.5],"nice":false,"zero":false},"axis":{"values":[-4,-2,0,2,4],"labels":false,"ticks":false,"title":null}},"y":{"field":"l","type":"quantitative","scale":{"domain":[-258,268],"nice":false,"zero":false},"axis":{"values":[-200,-100,0,100,200],"format":"d","labelOverlap":false,"title":"Effect on Mig_R (%)"}},"y2":{"field":"h"},"color":{"datum":"95% Confidence interval","scale":{"domain":["Sample","Fitted curve (R-square: 1.00)","95% Confidence interval"],"range":["#2f62b0","#ee8a12","#f9cd96"]},"legend":{"title":null,"labelExpr":"indexof(datum.label,'Fitted')==0 ? [datum.label,'y = -6.07e-2x⁵ - 9.62e-2x⁴ - 1.02e-1x³ - 0.177x² + 66.668X - 0.199'] : datum.label"}}}},
{"data":{"name":"E_s"},"mark":{"type":"circle"},"encoding":{"x":{"field":"x","type":"quantitative"},"y":{"field":"y","type":"quantitative"},"color":{"datum":"Sample"}}},
{"data":{"values":[{}]},"mark":{"type":"rule","color":"#4d4d4d","strokeWidth":0.8},"encoding":{"y":{"datum":0}}},
{"data":{"name":"E_c"},"mark":{"type":"line","strokeDash":[4,2],"strokeWidth":1},"encoding":{"x":{"field":"x","type":"quantitative"},"y":{"field":"y","type":"quantitative"},"color":{"datum":"Fitted curve (R-square: 1.00)"}}},
{"data":{"name":"E_r"},"mark":{"type":"rule","color":"#d7262b","strokeDash":[3,2],"strokeWidth":1},"encoding":{"x":{"field":"x","type":"quantitative"}}},
{"data":{"name":"E_r"},"mark":{"type":"point","shape":"M-1.2,-0.7H1.2V0.7H-1.2Z","size":100,"filled":true,"fill":"#fffbe8","stroke":"#333333","strokeWidth":0.5,"opacity":1,"yOffset":7},"encoding":{"x":{"field":"x","type":"quantitative"},"y":{"datum":0}}},
{"data":{"name":"E_r"},"mark":{"type":"text","fontSize":4.5,"fontWeight":"bold","yOffset":7},"encoding":{"x":{"field":"x","type":"quantitative"},"y":{"datum":0},"text":{"field":"t"}}}
]},
{"width":186,"height":29,"data":{"name":"E_h"},"mark":{"type":"bar","size":4,"color":"#1a1a1a"},"encoding":{"x":{"field":"x","type":"quantitative","scale":{"domain":[-4.3,4.5],"nice":false,"zero":false},"axis":{"values":[-4,-2,0,2,4],"format":"d","title":"KQ"}},"y":{"field":"n","type":"quantitative","axis":{"labels":false,"ticks":false,"title":"Dist.","tickCount":3}}}}
],"spacing":0,"resolve":{"scale":{"color":"independent"},"legend":{"color":"independent"}}}
],"spacing":2,"resolve":{"scale":{"color":"independent"},"legend":{"color":"independent"}}},
{"hconcat":[
{"vconcat":[
{"width":186,"height":116,"title":"(F)","layer":[
{"data":{"name":"F_c"},"mark":{"type":"area","opacity":0.6},"encoding":{"x":{"field":"x","type":"quantitative","scale":{"domain":[-4.39,4.48],"nice":false,"zero":false},"axis":{"values":[-4,-3,-2,-1,0,1,2,3,4],"labels":false,"ticks":false,"title":null}},"y":{"field":"l","type":"quantitative","scale":{"domain":[-43.7,51.2],"nice":false,"zero":false},"axis":{"values":[-40,-20,0,20,40],"format":"d","labelOverlap":false,"title":"Effect on Mig_R (%)"}},"y2":{"field":"h"},"color":{"datum":"95% Confidence interval","scale":{"domain":["Sample","Fitted curve (R-square: 0.98)","95% Confidence interval"],"range":["#2f62b0","#ee8a12","#f9cd96"]},"legend":{"title":null,"labelExpr":"indexof(datum.label,'Fitted')==0 ? [datum.label,'y = -1.31e-2x⁵ - 8.65e-2x⁴ - 9.94e-3x³ - 0.869x² + 12.467X - 0.429'] : datum.label"}}}},
{"data":{"name":"F_s"},"mark":{"type":"circle"},"encoding":{"x":{"field":"x","type":"quantitative"},"y":{"field":"y","type":"quantitative"},"color":{"datum":"Sample"}}},
{"data":{"values":[{}]},"mark":{"type":"rule","color":"#4d4d4d","strokeWidth":0.8},"encoding":{"y":{"datum":0}}},
{"data":{"name":"F_c"},"mark":{"type":"line","strokeDash":[4,2],"strokeWidth":1},"encoding":{"x":{"field":"x","type":"quantitative"},"y":{"field":"y","type":"quantitative"},"color":{"datum":"Fitted curve (R-square: 0.98)"}}},
{"data":{"name":"F_r"},"mark":{"type":"rule","color":"#d7262b","strokeDash":[3,2],"strokeWidth":1},"encoding":{"x":{"field":"x","type":"quantitative"}}},
{"data":{"name":"F_r"},"mark":{"type":"point","shape":"M-1.45,-0.7H1.45V0.7H-1.45Z","size":100,"filled":true,"fill":"#fffbe8","stroke":"#333333","strokeWidth":0.5,"opacity":1,"yOffset":7},"encoding":{"x":{"field":"x","type":"quantitative"},"y":{"datum":0}}},
{"data":{"name":"F_r"},"mark":{"type":"text","fontSize":4.5,"fontWeight":"bold","yOffset":7},"encoding":{"x":{"field":"x","type":"quantitative"},"y":{"datum":0},"text":{"field":"t"}}}
]},
{"width":186,"height":29,"data":{"name":"F_h"},"mark":{"type":"bar","size":4,"color":"#1a1a1a"},"encoding":{"x":{"field":"x","type":"quantitative","scale":{"domain":[-4.39,4.48],"nice":false,"zero":false},"axis":{"values":[-4,-3,-2,-1,0,1,2,3,4],"format":"d","title":"SLP"}},"y":{"field":"n","type":"quantitative","axis":{"labels":false,"ticks":false,"title":"Dist.","tickCount":3}}}}
],"spacing":0,"resolve":{"scale":{"color":"independent"},"legend":{"color":"independent"}}},
{"vconcat":[
{"width":186,"height":116,"title":"(G)","layer":[
{"data":{"name":"G_c"},"mark":{"type":"area","opacity":0.6},"encoding":{"x":{"field":"x","type":"quantitative","scale":{"domain":[-4.72,4.39],"nice":false,"zero":false},"axis":{"values":[-4,-2,0,2,4],"labels":false,"ticks":false,"title":null}},"y":{"field":"l","type":"quantitative","scale":{"domain":[-34.1,34.7],"nice":false,"zero":false},"axis":{"values":[-30,-20,-10,0,10,20,30],"format":"d","labelOverlap":false,"title":"Effect on Mig_R (%)"}},"y2":{"field":"h"},"color":{"datum":"95% Confidence interval","scale":{"domain":["Sample","Fitted curve (R-square: 0.98)","95% Confidence interval"],"range":["#2f62b0","#ee8a12","#f9cd96"]},"legend":{"title":null,"labelExpr":"indexof(datum.label,'Fitted')==0 ? [datum.label,'y = -3.34e-2x⁵ - 3.19e-2x⁴ + 2.08e-1x³ + 0.114x² + 9.900X - 0.846'] : datum.label"}}}},
{"data":{"name":"G_s"},"mark":{"type":"circle"},"encoding":{"x":{"field":"x","type":"quantitative"},"y":{"field":"y","type":"quantitative"},"color":{"datum":"Sample"}}},
{"data":{"values":[{}]},"mark":{"type":"rule","color":"#4d4d4d","strokeWidth":0.8},"encoding":{"y":{"datum":0}}},
{"data":{"name":"G_c"},"mark":{"type":"line","strokeDash":[4,2],"strokeWidth":1},"encoding":{"x":{"field":"x","type":"quantitative"},"y":{"field":"y","type":"quantitative"},"color":{"datum":"Fitted curve (R-square: 0.98)"}}},
{"data":{"name":"G_r"},"mark":{"type":"rule","color":"#d7262b","strokeDash":[3,2],"strokeWidth":1},"encoding":{"x":{"field":"x","type":"quantitative"}}},
{"data":{"name":"G_r"},"mark":{"type":"point","shape":"M-1.2,-0.7H1.2V0.7H-1.2Z","size":100,"filled":true,"fill":"#fffbe8","stroke":"#333333","strokeWidth":0.5,"opacity":1,"yOffset":7},"encoding":{"x":{"field":"x","type":"quantitative"},"y":{"datum":0}}},
{"data":{"name":"G_r"},"mark":{"type":"text","fontSize":4.5,"fontWeight":"bold","yOffset":7},"encoding":{"x":{"field":"x","type":"quantitative"},"y":{"datum":0},"text":{"field":"t"}}}
]},
{"width":186,"height":29,"data":{"name":"G_h"},"mark":{"type":"bar","size":3.9,"color":"#1a1a1a"},"encoding":{"x":{"field":"x","type":"quantitative","scale":{"domain":[-4.72,4.39],"nice":false,"zero":false},"axis":{"values":[-4,-2,0,2,4],"format":"d","title":"YAY"}},"y":{"field":"n","type":"quantitative","axis":{"labels":false,"ticks":false,"title":"Dist.","tickCount":3}}}}
],"spacing":0,"resolve":{"scale":{"color":"independent"},"legend":{"color":"independent"}}},
{"vconcat":[
{"width":186,"height":116,"title":"(H)","layer":[
{"data":{"name":"H_c"},"mark":{"type":"area","opacity":0.6},"encoding":{"x":{"field":"x","type":"quantitative","scale":{"domain":[-4.9,5.23],"nice":false,"zero":false},"axis":{"values":[-4,-2,0,2,4],"labels":false,"ticks":false,"title":null}},"y":{"field":"l","type":"quantitative","scale":{"domain":[-11.8,10.2],"nice":false,"zero":false},"axis":{"values":[-10,-7.5,-5,-2.5,0,2.5,5,7.5,10],"format":".1f","labelOverlap":false,"title":"Effect on Mig_R (%)"}},"y2":{"field":"h"},"color":{"datum":"95% Confidence interval","scale":{"domain":["Sample","Fitted curve (R-square: 0.95)","95% Confidence interval"],"range":["#2f62b0","#ee8a12","#f9cd96"]},"legend":{"title":null,"labelExpr":"indexof(datum.label,'Fitted')==0 ? [datum.label,'y = -2.08e-3x⁵ - 3.32e-3x⁴ + 4.38e-2x³ + 0.025x² + 2.619X - 0.023'] : datum.label"}}}},
{"data":{"name":"H_s"},"mark":{"type":"circle"},"encoding":{"x":{"field":"x","type":"quantitative"},"y":{"field":"y","type":"quantitative"},"color":{"datum":"Sample"}}},
{"data":{"values":[{}]},"mark":{"type":"rule","color":"#4d4d4d","strokeWidth":0.8},"encoding":{"y":{"datum":0}}},
{"data":{"name":"H_c"},"mark":{"type":"line","strokeDash":[4,2],"strokeWidth":1},"encoding":{"x":{"field":"x","type":"quantitative"},"y":{"field":"y","type":"quantitative"},"color":{"datum":"Fitted curve (R-square: 0.95)"}}},
{"data":{"name":"H_r"},"mark":{"type":"rule","color":"#d7262b","strokeDash":[3,2],"strokeWidth":1},"encoding":{"x":{"field":"x","type":"quantitative"}}},
{"data":{"name":"H_r"},"mark":{"type":"point","shape":"M-1.2,-0.7H1.2V0.7H-1.2Z","size":100,"filled":true,"fill":"#fffbe8","stroke":"#333333","strokeWidth":0.5,"opacity":1,"yOffset":7},"encoding":{"x":{"field":"x","type":"quantitative"},"y":{"datum":0}}},
{"data":{"name":"H_r"},"mark":{"type":"text","fontSize":4.5,"fontWeight":"bold","yOffset":7},"encoding":{"x":{"field":"x","type":"quantitative"},"y":{"datum":0},"text":{"field":"t"}}}
]},
{"width":186,"height":29,"data":{"name":"H_h"},"mark":{"type":"bar","size":3.4,"color":"#1a1a1a"},"encoding":{"x":{"field":"x","type":"quantitative","scale":{"domain":[-4.9,5.23],"nice":false,"zero":false},"axis":{"values":[-4,-2,0,2,4],"format":"d","title":"SWC"}},"y":{"field":"n","type":"quantitative","axis":{"labels":false,"ticks":false,"title":"Dist.","tickCount":3}}}}
],"spacing":0,"resolve":{"scale":{"color":"independent"},"legend":{"color":"independent"}}},
{"vconcat":[
{"width":186,"height":116,"title":"(I)","layer":[
{"data":{"name":"I_c"},"mark":{"type":"area","opacity":0.6},"encoding":{"x":{"field":"x","type":"quantitative","scale":{"domain":[-4.29,4.24],"nice":false,"zero":false},"axis":{"values":[-4,-3,-2,-1,0,1,2,3,4],"labels":false,"ticks":false,"title":null}},"y":{"field":"l","type":"quantitative","scale":{"domain":[-3.71,3.06],"nice":false,"zero":false},"axis":{"values":[-3,-2,-1,0,1,2,3],"format":"d","labelOverlap":false,"title":"Effect on Mig_R (%)"}},"y2":{"field":"h"},"color":{"datum":"95% Confidence interval","scale":{"domain":["Sample","Fitted curve (R-square: 0.54)","95% Confidence interval"],"range":["#2f62b0","#ee8a12","#f9cd96"]},"legend":{"title":null,"labelExpr":"indexof(datum.label,'Fitted')==0 ? [datum.label,'y = -8.23e-2x⁵ + 1.38e-2x⁴ + 1.01e-1x³ - 0.220x² + 0.068X + 0.150'] : datum.label"}}}},
{"data":{"name":"I_s"},"mark":{"type":"circle"},"encoding":{"x":{"field":"x","type":"quantitative"},"y":{"field":"y","type":"quantitative"},"color":{"datum":"Sample"}}},
{"data":{"values":[{}]},"mark":{"type":"rule","color":"#4d4d4d","strokeWidth":0.8},"encoding":{"y":{"datum":0}}},
{"data":{"name":"I_c"},"mark":{"type":"line","strokeDash":[4,2],"strokeWidth":1},"encoding":{"x":{"field":"x","type":"quantitative"},"y":{"field":"y","type":"quantitative"},"color":{"datum":"Fitted curve (R-square: 0.54)"}}},
{"data":{"name":"I_r"},"mark":{"type":"rule","color":"#d7262b","strokeDash":[3,2],"strokeWidth":1},"encoding":{"x":{"field":"x","type":"quantitative"}}},
{"data":{"name":"I_r"},"mark":{"type":"point","shape":"M-1.45,-0.7H1.45V0.7H-1.45Z","size":100,"filled":true,"fill":"#fffbe8","stroke":"#333333","strokeWidth":0.5,"opacity":1,"yOffset":7},"encoding":{"x":{"field":"x","type":"quantitative"},"y":{"datum":0}}},
{"data":{"name":"I_r"},"mark":{"type":"text","fontSize":4.5,"fontWeight":"bold","yOffset":7},"encoding":{"x":{"field":"x","type":"quantitative"},"y":{"datum":0},"text":{"field":"t"}}}
]},
{"width":186,"height":29,"data":{"name":"I_h"},"mark":{"type":"bar","size":4.2,"color":"#1a1a1a"},"encoding":{"x":{"field":"x","type":"quantitative","scale":{"domain":[-4.29,4.24],"nice":false,"zero":false},"axis":{"values":[-4,-3,-2,-1,0,1,2,3,4],"format":"d","title":"ASP"}},"y":{"field":"n","type":"quantitative","axis":{"labels":false,"ticks":false,"title":"Dist.","tickCount":3}}}}
],"spacing":0,"resolve":{"scale":{"color":"independent"},"legend":{"color":"independent"}}},
{"vconcat":[
{"width":186,"height":116,"title":"(J)","layer":[
{"data":{"name":"J_c"},"mark":{"type":"area","opacity":0.6},"encoding":{"x":{"field":"x","type":"quantitative","scale":{"domain":[4.47,7.65],"nice":false,"zero":false},"axis":{"values":[4.5,5,5.5,6,6.5,7,7.5],"labels":false,"ticks":false,"title":null}},"y":{"field":"l","type":"quantitative","scale":{"domain":[-11.04,5.35],"nice":false,"zero":false},"axis":{"values":[-10,-8,-6,-4,-2,0,2,4],"format":"d","labelOverlap":false,"title":"Effect on Mig_R (%)"}},"y2":{"field":"h"},"color":{"datum":"95% Confidence interval","scale":{"domain":["Sample","Fitted curve (R-square: 0.05)","95% Confidence interval"],"range":["#2f62b0","#ee8a12","#f9cd96"]},"legend":{"title":null,"labelExpr":"indexof(datum.label,'Fitted')==0 ? [datum.label,'y = 1.02e-1x⁵ - 4.08e+00x⁴ + 5.65e+01x³ - 353.836x² + 953.133X - 138.009'] : datum.label"}}}},
{"data":{"name":"J_s"},"mark":{"type":"circle"},"encoding":{"x":{"field":"x","type":"quantitative"},"y":{"field":"y","type":"quantitative"},"color":{"datum":"Sample"}}},
{"data":{"values":[{}]},"mark":{"type":"rule","color":"#4d4d4d","strokeWidth":0.8},"encoding":{"y":{"datum":0}}},
{"data":{"name":"J_c"},"mark":{"type":"line","strokeDash":[4,2],"strokeWidth":1},"encoding":{"x":{"field":"x","type":"quantitative"},"y":{"field":"y","type":"quantitative"},"color":{"datum":"Fitted curve (R-square: 0.05)"}}},
{"data":{"name":"J_r"},"mark":{"type":"rule","color":"#d7262b","strokeDash":[3,2],"strokeWidth":1},"encoding":{"x":{"field":"x","type":"quantitative"}}},
{"data":{"name":"J_r"},"mark":{"type":"point","shape":"M-1.2,-0.7H1.2V0.7H-1.2Z","size":100,"filled":true,"fill":"#fffbe8","stroke":"#333333","strokeWidth":0.5,"opacity":1,"yOffset":7},"encoding":{"x":{"field":"x","type":"quantitative"},"y":{"datum":0}}},
{"data":{"name":"J_r"},"mark":{"type":"text","fontSize":4.5,"fontWeight":"bold","yOffset":7},"encoding":{"x":{"field":"x","type":"quantitative"},"y":{"datum":0},"text":{"field":"t"}}}
]},
{"width":186,"height":29,"data":{"name":"J_h"},"mark":{"type":"bar","size":4.6,"color":"#1a1a1a"},"encoding":{"x":{"field":"x","type":"quantitative","scale":{"domain":[4.47,7.65],"nice":false,"zero":false},"axis":{"values":[4.5,5,5.5,6,6.5,7,7.5],"format":".1f","title":"PH"}},"y":{"field":"n","type":"quantitative","axis":{"labels":false,"ticks":false,"title":"Dist.","tickCount":3}}}}
],"spacing":0,"resolve":{"scale":{"color":"independent"},"legend":{"color":"independent"}}}
],"spacing":2,"resolve":{"scale":{"color":"independent"},"legend":{"color":"independent"}}},
{"hconcat":[
{"vconcat":[
{"width":186,"height":116,"title":"(K)","layer":[
{"data":{"name":"K_c"},"mark":{"type":"area","opacity":0.6},"encoding":{"x":{"field":"x","type":"quantitative","scale":{"domain":[-4.19,4.07],"nice":false,"zero":false},"axis":{"values":[-4,-3,-2,-1,0,1,2,3],"labels":false,"ticks":false,"title":null}},"y":{"field":"l","type":"quantitative","scale":{"domain":[-5.66,12.8],"nice":false,"zero":false},"axis":{"values":[-5,-2.5,0,2.5,5,7.5,10],"format":".1f","labelOverlap":false,"title":"Effect on Mig_R (%)"}},"y2":{"field":"h"},"color":{"datum":"95% Confidence interval","scale":{"domain":["Sample","Fitted curve (R-square: 0.38)","95% Confidence interval"],"range":["#2f62b0","#ee8a12","#f9cd96"]},"legend":{"title":null,"labelExpr":"indexof(datum.label,'Fitted')==0 ? [datum.label,'y = -3.99e-3x⁵ + 1.20e-3x⁴ - 1.83e-1x³ - 0.000x² + 0.129X - 0.009'] : datum.label"}}}},
{"data":{"name":"K_s"},"mark":{"type":"circle"},"encoding":{"x":{"field":"x","type":"quantitative"},"y":{"field":"y","type":"quantitative"},"color":{"datum":"Sample"}}},
{"data":{"values":[{}]},"mark":{"type":"rule","color":"#4d4d4d","strokeWidth":0.8},"encoding":{"y":{"datum":0}}},
{"data":{"name":"K_c"},"mark":{"type":"line","strokeDash":[4,2],"strokeWidth":1},"encoding":{"x":{"field":"x","type":"quantitative"},"y":{"field":"y","type":"quantitative"},"color":{"datum":"Fitted curve (R-square: 0.38)"}}},
{"data":{"name":"K_r"},"mark":{"type":"rule","color":"#d7262b","strokeDash":[3,2],"strokeWidth":1},"encoding":{"x":{"field":"x","type":"quantitative"}}},
{"data":{"name":"K_r"},"mark":{"type":"point","shape":"M-1.45,-0.7H1.45V0.7H-1.45Z","size":100,"filled":true,"fill":"#fffbe8","stroke":"#333333","strokeWidth":0.5,"opacity":1,"yOffset":7},"encoding":{"x":{"field":"x","type":"quantitative"},"y":{"datum":0}}},
{"data":{"name":"K_r"},"mark":{"type":"text","fontSize":4.5,"fontWeight":"bold","yOffset":7},"encoding":{"x":{"field":"x","type":"quantitative"},"y":{"datum":0},"text":{"field":"t"}}}
]},
{"width":186,"height":29,"data":{"name":"K_h"},"mark":{"type":"bar","size":4.4,"color":"#1a1a1a"},"encoding":{"x":{"field":"x","type":"quantitative","scale":{"domain":[-4.19,4.07],"nice":false,"zero":false},"axis":{"values":[-4,-3,-2,-1,0,1,2,3],"format":"d","title":"FS"}},"y":{"field":"n","type":"quantitative","axis":{"labels":false,"ticks":false,"title":"Dist.","tickCount":3}}}}
],"spacing":0,"resolve":{"scale":{"color":"independent"},"legend":{"color":"independent"}}},
{"vconcat":[
{"width":186,"height":116,"title":"(L)","layer":[
{"data":{"name":"L_c"},"mark":{"type":"area","opacity":0.6},"encoding":{"x":{"field":"x","type":"quantitative","scale":{"domain":[460,2520],"nice":false,"zero":false},"axis":{"values":[500,750,1000,1250,1500,1750,2000,2250,2500],"labels":false,"ticks":false,"title":null}},"y":{"field":"l","type":"quantitative","scale":{"domain":[-3.05,2.54],"nice":false,"zero":false},"axis":{"values":[-3,-2,-1,0,1,2],"format":"d","labelOverlap":false,"title":"Effect on Mig_R (%)"}},"y2":{"field":"h"},"color":{"datum":"95% Confidence interval","scale":{"domain":["Sample","Fitted curve (R-square: 0.33)","95% Confidence interval"],"range":["#2f62b0","#ee8a12","#f9cd96"]},"legend":{"title":null,"labelExpr":"indexof(datum.label,'Fitted')==0 ? [datum.label,'y = -3.20e-16x⁵ + 2.07e-12x⁴ - 8.41e-9x³ + 0.000x² - 0.0005X + 2.364'] : datum.label"}}}},
{"data":{"name":"L_s"},"mark":{"type":"circle"},"encoding":{"x":{"field":"x","type":"quantitative"},"y":{"field":"y","type":"quantitative"},"color":{"datum":"Sample"}}},
{"data":{"values":[{}]},"mark":{"type":"rule","color":"#4d4d4d","strokeWidth":0.8},"encoding":{"y":{"datum":0}}},
{"data":{"name":"L_c"},"mark":{"type":"line","strokeDash":[4,2],"strokeWidth":1},"encoding":{"x":{"field":"x","type":"quantitative"},"y":{"field":"y","type":"quantitative"},"color":{"datum":"Fitted curve (R-square: 0.33)"}}},
{"data":{"name":"L_r"},"mark":{"type":"rule","color":"#d7262b","strokeDash":[3,2],"strokeWidth":1},"encoding":{"x":{"field":"x","type":"quantitative"}}},
{"data":{"name":"L_r"},"mark":{"type":"point","shape":"M-1.85,-0.7H1.85V0.7H-1.85Z","size":100,"filled":true,"fill":"#fffbe8","stroke":"#333333","strokeWidth":0.5,"opacity":1,"yOffset":7},"encoding":{"x":{"field":"x","type":"quantitative"},"y":{"datum":0}}},
{"data":{"name":"L_r"},"mark":{"type":"text","fontSize":4.5,"fontWeight":"bold","yOffset":7},"encoding":{"x":{"field":"x","type":"quantitative"},"y":{"datum":0},"text":{"field":"t"}}}
]},
{"width":186,"height":29,"data":{"name":"L_h"},"mark":{"type":"bar","size":3.3,"color":"#1a1a1a"},"encoding":{"x":{"field":"x","type":"quantitative","scale":{"domain":[460,2520],"nice":false,"zero":false},"axis":{"values":[500,750,1000,1250,1500,1750,2000,2250,2500],"format":"d","title":"ELE"}},"y":{"field":"n","type":"quantitative","axis":{"labels":false,"ticks":false,"title":"Dist.","tickCount":3}}}}
],"spacing":0,"resolve":{"scale":{"color":"independent"},"legend":{"color":"independent"}}},
{"vconcat":[
{"width":186,"height":116,"title":"(M)","layer":[
{"data":{"name":"M_c"},"mark":{"type":"area","opacity":0.6},"encoding":{"x":{"field":"x","type":"quantitative","scale":{"domain":[-4.24,4.13],"nice":false,"zero":false},"axis":{"values":[-4,-3,-2,-1,0,1,2,3],"labels":false,"ticks":false,"title":null}},"y":{"field":"l","type":"quantitative","scale":{"domain":[-2.02,3.33],"nice":false,"zero":false},"axis":{"values":[-2,-1,0,1,2,3],"format":"d","labelOverlap":false,"title":"Effect on Mig_R (%)"}},"y2":{"field":"h"},"color":{"datum":"95% Confidence interval","scale":{"domain":["Sample","Fitted curve (R-square: 0.22)","95% Confidence interval"],"range":["#2f62b0","#ee8a12","#f9cd96"]},"legend":{"title":null,"labelExpr":"indexof(datum.label,'Fitted')==0 ? [datum.label,'y = 2.80e-3x⁵ - 1.03e-3x⁴ - 1.31e-2x³ + 0.009x² + 0.100X - 0.032'] : datum.label"}}}},
{"data":{"name":"M_s"},"mark":{"type":"circle"},"encoding":{"x":{"field":"x","type":"quantitative"},"y":{"field":"y","type":"quantitative"},"color":{"datum":"Sample"}}},
{"data":{"values":[{}]},"mark":{"type":"rule","color":"#4d4d4d","strokeWidth":0.8},"encoding":{"y":{"datum":0}}},
{"data":{"name":"M_c"},"mark":{"type":"line","strokeDash":[4,2],"strokeWidth":1},"encoding":{"x":{"field":"x","type":"quantitative"},"y":{"field":"y","type":"quantitative"},"color":{"datum":"Fitted curve (R-square: 0.22)"}}},
{"data":{"name":"M_r"},"mark":{"type":"rule","color":"#d7262b","strokeDash":[3,2],"strokeWidth":1},"encoding":{"x":{"field":"x","type":"quantitative"}}},
{"data":{"name":"M_r"},"mark":{"type":"point","shape":"M-1.45,-0.7H1.45V0.7H-1.45Z","size":100,"filled":true,"fill":"#fffbe8","stroke":"#333333","strokeWidth":0.5,"opacity":1,"yOffset":7},"encoding":{"x":{"field":"x","type":"quantitative"},"y":{"datum":0}}},
{"data":{"name":"M_r"},"mark":{"type":"text","fontSize":4.5,"fontWeight":"bold","yOffset":7},"encoding":{"x":{"field":"x","type":"quantitative"},"y":{"datum":0},"text":{"field":"t"}}}
]},
{"width":186,"height":29,"data":{"name":"M_h"},"mark":{"type":"bar","size":4.4,"color":"#1a1a1a"},"encoding":{"x":{"field":"x","type":"quantitative","scale":{"domain":[-4.24,4.13],"nice":false,"zero":false},"axis":{"values":[-4,-3,-2,-1,0,1,2,3],"format":"d","title":"AT"}},"y":{"field":"n","type":"quantitative","axis":{"labels":false,"ticks":false,"title":"Dist.","tickCount":3}}}}
],"spacing":0,"resolve":{"scale":{"color":"independent"},"legend":{"color":"independent"}}},
{"vconcat":[
{"width":186,"height":116,"title":"(N)","layer":[
{"data":{"name":"N_c"},"mark":{"type":"area","opacity":0.6},"encoding":{"x":{"field":"x","type":"quantitative","scale":{"domain":[-4.32,4.24],"nice":false,"zero":false},"axis":{"values":[-4,-3,-2,-1,0,1,2,3,4],"labels":false,"ticks":false,"title":null}},"y":{"field":"l","type":"quantitative","scale":{"domain":[-4.0,4.6],"nice":false,"zero":false},"axis":{"values":[-4,-3,-2,-1,0,1,2,3,4],"format":"d","labelOverlap":false,"title":"Effect on Mig_R (%)"}},"y2":{"field":"h"},"color":{"datum":"95% Confidence interval","scale":{"domain":["Sample","Fitted curve (R-square: 0.07)","95% Confidence interval"],"range":["#2f62b0","#ee8a12","#f9cd96"]},"legend":{"title":null,"labelExpr":"indexof(datum.label,'Fitted')==0 ? [datum.label,'y = -3.50e-3x⁵ - 8.46e-3x⁴ - 1.85e-2x³ + 0.032x² + 0.009X - 0.027'] : datum.label"}}}},
{"data":{"name":"N_s"},"mark":{"type":"circle"},"encoding":{"x":{"field":"x","type":"quantitative"},"y":{"field":"y","type":"quantitative"},"color":{"datum":"Sample"}}},
{"data":{"values":[{}]},"mark":{"type":"rule","color":"#4d4d4d","strokeWidth":0.8},"encoding":{"y":{"datum":0}}},
{"data":{"name":"N_c"},"mark":{"type":"line","strokeDash":[4,2],"strokeWidth":1},"encoding":{"x":{"field":"x","type":"quantitative"},"y":{"field":"y","type":"quantitative"},"color":{"datum":"Fitted curve (R-square: 0.07)"}}},
{"data":{"name":"N_r"},"mark":{"type":"rule","color":"#d7262b","strokeDash":[3,2],"strokeWidth":1},"encoding":{"x":{"field":"x","type":"quantitative"}}},
{"data":{"name":"N_r"},"mark":{"type":"point","shape":"M-1.45,-0.7H1.45V0.7H-1.45Z","size":100,"filled":true,"fill":"#fffbe8","stroke":"#333333","strokeWidth":0.5,"opacity":1,"yOffset":7},"encoding":{"x":{"field":"x","type":"quantitative"},"y":{"datum":0}}},
{"data":{"name":"N_r"},"mark":{"type":"text","fontSize":4.5,"fontWeight":"bold","yOffset":7},"encoding":{"x":{"field":"x","type":"quantitative"},"y":{"datum":0},"text":{"field":"t"}}}
]},
{"width":186,"height":29,"data":{"name":"N_h"},"mark":{"type":"bar","size":4.2,"color":"#1a1a1a"},"encoding":{"x":{"field":"x","type":"quantitative","scale":{"domain":[-4.32,4.24],"nice":false,"zero":false},"axis":{"values":[-4,-3,-2,-1,0,1,2,3,4],"format":"d","title":"WS"}},"y":{"field":"n","type":"quantitative","axis":{"labels":false,"ticks":false,"title":"Dist.","tickCount":3}}}}
],"spacing":0,"resolve":{"scale":{"color":"independent"},"legend":{"color":"independent"}}},
{"vconcat":[
{"width":186,"height":116,"title":"(O)","layer":[
{"data":{"name":"O_c"},"mark":{"type":"area","opacity":0.6},"encoding":{"x":{"field":"x","type":"quantitative","scale":{"domain":[-4.02,4.0],"nice":false,"zero":false},"axis":{"values":[-4,-3,-2,-1,0,1,2,3],"labels":false,"ticks":false,"title":null}},"y":{"field":"l","type":"quantitative","scale":{"domain":[-5.67,5.37],"nice":false,"zero":false},"axis":{"values":[-4,-2,0,2,4],"format":"d","labelOverlap":false,"title":"Effect on Mig_R (%)"}},"y2":{"field":"h"},"color":{"datum":"95% Confidence interval","scale":{"domain":["Sample","Fitted curve (R-square: 0.04)","95% Confidence interval"],"range":["#2f62b0","#ee8a12","#f9cd96"]},"legend":{"title":null,"labelExpr":"indexof(datum.label,'Fitted')==0 ? [datum.label,'y = -1.68e-3x⁵ + 3.78e-3x⁴ - 2.39e-2x³ + 0.047x² - 0.017X + 0.040'] : datum.label"}}}},
{"data":{"name":"O_s"},"mark":{"type":"circle"},"encoding":{"x":{"field":"x","type":"quantitative"},"y":{"field":"y","type":"quantitative"},"color":{"datum":"Sample"}}},
{"data":{"values":[{}]},"mark":{"type":"rule","color":"#4d4d4d","strokeWidth":0.8},"encoding":{"y":{"datum":0}}},
{"data":{"name":"O_c"},"mark":{"type":"line","strokeDash":[4,2],"strokeWidth":1},"encoding":{"x":{"field":"x","type":"quantitative"},"y":{"field":"y","type":"quantitative"},"color":{"datum":"Fitted curve (R-square: 0.04)"}}},
{"data":{"name":"O_r"},"mark":{"type":"rule","color":"#d7262b","strokeDash":[3,2],"strokeWidth":1},"encoding":{"x":{"field":"x","type":"quantitative"}}},
{"data":{"name":"O_r"},"mark":{"type":"point","shape":"M-1.45,-0.7H1.45V0.7H-1.45Z","size":100,"filled":true,"fill":"#fffbe8","stroke":"#333333","strokeWidth":0.5,"opacity":1,"yOffset":7},"encoding":{"x":{"field":"x","type":"quantitative"},"y":{"datum":0}}},
{"data":{"name":"O_r"},"mark":{"type":"text","fontSize":4.5,"fontWeight":"bold","yOffset":7},"encoding":{"x":{"field":"x","type":"quantitative"},"y":{"datum":0},"text":{"field":"t"}}}
]},
{"width":186,"height":29,"data":{"name":"O_h"},"mark":{"type":"bar","size":4.6,"color":"#1a1a1a"},"encoding":{"x":{"field":"x","type":"quantitative","scale":{"domain":[-4.02,4.0],"nice":false,"zero":false},"axis":{"values":[-4,-3,-2,-1,0,1,2,3],"format":"d","title":"SNO"}},"y":{"field":"n","type":"quantitative","axis":{"labels":false,"ticks":false,"title":"Dist.","tickCount":3}}}}
],"spacing":0,"resolve":{"scale":{"color":"independent"},"legend":{"color":"independent"}}}
],"spacing":2,"resolve":{"scale":{"color":"independent"},"legend":{"color":"independent"}}}
]
}
